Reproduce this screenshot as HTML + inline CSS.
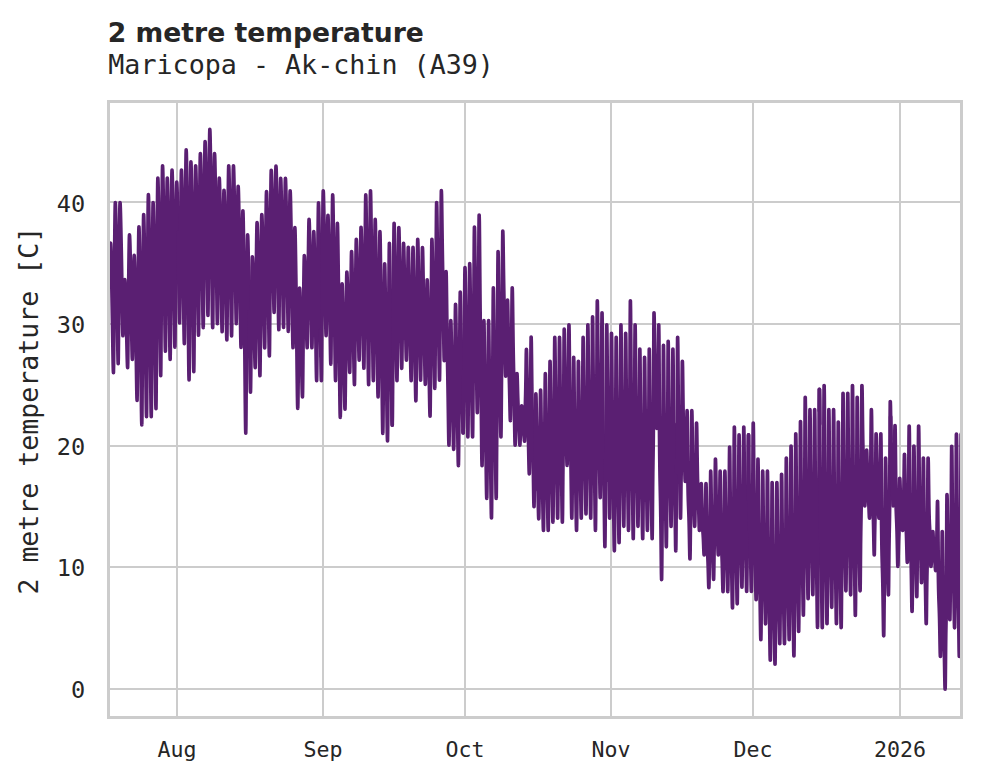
<!DOCTYPE html>
<html lang="en">
<head>
<meta charset="utf-8">
<title>2 metre temperature - Maricopa - Ak-chin (A39)</title>
<style>
html,body{margin:0;padding:0;background:#fff;}
body{width:981px;height:782px;overflow:hidden;}
svg{display:block;}
</style>
</head>
<body>
<svg width="981" height="782" viewBox="0 0 981 782">
<defs><clipPath id="ax"><rect x="108.5" y="101.5" width="853.0" height="616.0"/></clipPath></defs>
<rect width="981" height="782" fill="#ffffff"/>
<g stroke="#cccccc" stroke-width="2.0" fill="none">
<line x1="177.0" y1="101.5" x2="177.0" y2="717.5"/>
<line x1="323.0" y1="101.5" x2="323.0" y2="717.5"/>
<line x1="465.0" y1="101.5" x2="465.0" y2="717.5"/>
<line x1="611.0" y1="101.5" x2="611.0" y2="717.5"/>
<line x1="753.0" y1="101.5" x2="753.0" y2="717.5"/>
<line x1="900.0" y1="101.5" x2="900.0" y2="717.5"/>
<line x1="108.5" y1="689.0" x2="961.5" y2="689.0"/>
<line x1="108.5" y1="567.0" x2="961.5" y2="567.0"/>
<line x1="108.5" y1="446.0" x2="961.5" y2="446.0"/>
<line x1="108.5" y1="324.0" x2="961.5" y2="324.0"/>
<line x1="108.5" y1="202.0" x2="961.5" y2="202.0"/>
</g>
<g clip-path="url(#ax)" fill="none" stroke="#5a1f72" stroke-linejoin="round" stroke-linecap="round">
<polyline points="109.37,257.1 109.47,256.5 109.57,255.2 109.67,253.6 109.77,251.9 109.87,250.4 109.97,249.0 110.07,247.7 110.17,246.4 110.27,245.3 110.37,244.2 110.47,243.4 110.57,243.1 110.73,244.6 110.89,248.4 111.05,253.7 111.21,260.0 111.37,266.9 111.53,274.2 111.69,281.7 111.85,289.5 112.01,297.7 112.17,306.3 112.33,315.4 112.49,325.0 112.65,335.0 112.81,345.1 112.97,354.9 113.13,363.7 113.29,370.1 113.45,372.6 113.60,365.6 113.76,349.4 113.91,329.8 114.07,310.0 114.22,291.4 114.38,274.3 114.53,258.3 114.68,243.3 114.84,229.2 114.99,216.5 115.15,206.7 115.30,202.5 115.46,204.4 115.62,209.1 115.78,215.8 115.94,223.6 116.10,232.2 116.26,241.2 116.42,250.5 116.58,260.3 116.74,270.5 116.90,281.1 117.06,292.4 117.22,304.4 117.38,316.8 117.54,329.4 117.70,341.6 117.86,352.5 118.02,360.4 118.18,363.6 118.33,356.9 118.48,341.6 118.64,323.1 118.79,304.4 118.95,286.7 119.10,270.5 119.25,255.4 119.41,241.2 119.56,227.8 119.72,215.8 119.87,206.4 120.03,202.5 120.19,204.0 120.34,208.0 120.50,213.5 120.66,220.0 120.82,227.0 120.98,234.5 121.14,242.3 121.30,250.3 121.46,258.7 121.62,267.6 121.78,276.9 121.94,286.8 122.10,297.1 122.26,307.5 122.42,317.6 122.58,326.6 122.74,333.2 122.90,335.8 123.06,333.5 123.21,328.1 123.36,321.7 123.52,315.1 123.67,309.0 123.83,303.3 123.98,298.1 124.13,293.1 124.29,288.5 124.44,284.3 124.60,281.0 124.75,279.6 124.91,280.7 125.07,283.3 125.23,286.9 125.39,291.2 125.55,295.8 125.71,300.8 125.87,305.9 126.03,311.2 126.19,316.8 126.35,322.6 126.51,328.8 126.67,335.3 126.83,342.1 126.99,349.0 127.15,355.7 127.31,361.6 127.47,366.0 127.63,367.7 127.78,362.2 127.93,349.6 128.09,334.3 128.24,318.9 128.40,304.3 128.55,290.9 128.71,278.5 128.86,266.8 129.01,255.8 129.17,245.8 129.32,238.1 129.48,234.9 129.64,236.3 129.80,240.0 129.96,245.1 130.12,251.2 130.28,257.8 130.44,264.8 130.59,272.0 130.75,279.6 130.91,287.4 131.07,295.7 131.23,304.4 131.39,313.6 131.55,323.2 131.71,333.0 131.87,342.4 132.03,350.8 132.19,357.0 132.35,359.4 132.51,355.1 132.66,345.2 132.81,333.3 132.97,321.1 133.12,309.8 133.28,299.3 133.43,289.5 133.59,280.4 133.74,271.7 133.89,264.0 134.05,257.9 134.20,255.4 134.36,257.1 134.52,261.3 134.68,267.3 134.84,274.4 135.00,282.1 135.16,290.2 135.32,298.6 135.48,307.4 135.64,316.6 135.80,326.2 135.96,336.3 136.12,347.1 136.28,358.3 136.44,369.6 136.60,380.6 136.76,390.4 136.92,397.6 137.08,400.4 137.23,393.2 137.39,376.7 137.54,356.7 137.69,336.5 137.85,317.5 138.00,300.0 138.16,283.7 138.31,268.4 138.47,254.0 138.62,241.0 138.77,231.0 138.93,226.7 139.09,229.0 139.25,234.8 139.41,243.0 139.57,252.7 139.73,263.2 139.89,274.3 140.05,285.8 140.21,297.8 140.37,310.3 140.53,323.5 140.68,337.4 140.84,352.0 141.00,367.3 141.16,382.8 141.32,397.9 141.48,411.2 141.64,421.0 141.80,424.9 141.96,416.2 142.11,396.2 142.27,372.0 142.42,347.5 142.57,324.5 142.73,303.2 142.88,283.5 143.04,265.0 143.19,247.5 143.34,231.8 143.50,219.6 143.65,214.5 143.81,216.8 143.97,222.7 144.13,231.1 144.29,240.9 144.45,251.7 144.61,263.0 144.77,274.8 144.93,287.0 145.09,299.8 145.25,313.2 145.41,327.4 145.57,342.3 145.73,357.9 145.89,373.8 146.05,389.1 146.21,402.7 146.37,412.7 146.53,416.7 146.68,407.5 146.84,386.4 146.99,360.8 147.15,335.0 147.30,310.6 147.45,288.2 147.61,267.4 147.76,247.8 147.92,229.4 148.07,212.8 148.22,199.9 148.38,194.5 148.54,197.0 148.70,203.6 148.86,212.8 149.02,223.6 149.18,235.4 149.34,247.8 149.50,260.8 149.66,274.2 149.82,288.2 149.98,303.0 150.14,318.5 150.30,335.0 150.46,352.1 150.61,369.5 150.77,386.4 150.93,401.4 151.09,412.3 151.25,416.7 151.41,407.8 151.56,387.5 151.72,362.8 151.87,337.9 152.02,314.5 152.18,292.9 152.33,272.8 152.49,253.9 152.64,236.1 152.80,220.1 152.95,207.7 153.10,202.5 153.26,204.9 153.42,211.0 153.58,219.5 153.74,229.5 153.90,240.4 154.06,252.0 154.22,264.0 154.38,276.4 154.54,289.4 154.70,303.1 154.86,317.6 155.02,332.8 155.18,348.7 155.34,364.9 155.50,380.5 155.66,394.4 155.82,404.6 155.98,408.6 156.13,399.0 156.29,377.2 156.44,350.6 156.60,323.8 156.75,298.5 156.90,275.2 157.06,253.6 157.21,233.3 157.37,214.2 157.52,196.9 157.68,183.6 157.83,178.0 157.99,180.2 158.15,186.1 158.31,194.2 158.47,203.9 158.63,214.4 158.79,225.4 158.95,237.0 159.11,248.9 159.27,261.4 159.43,274.5 159.59,288.4 159.75,303.0 159.91,318.3 160.07,333.8 160.23,348.8 160.39,362.1 160.55,371.9 160.71,375.8 160.86,367.1 161.01,347.2 161.17,323.0 161.32,298.5 161.48,275.5 161.63,254.3 161.78,234.6 161.94,216.1 162.09,198.7 162.25,183.0 162.40,170.8 162.56,165.7 162.71,167.8 162.87,173.3 163.03,181.0 163.19,190.0 163.35,199.9 163.51,210.2 163.67,221.0 163.83,232.3 163.99,244.0 164.15,256.3 164.31,269.3 164.47,283.0 164.63,297.4 164.79,311.9 164.95,326.0 165.11,338.5 165.27,347.7 165.43,351.3 165.58,344.1 165.74,327.7 165.89,307.7 166.05,287.6 166.20,268.6 166.36,251.1 166.51,234.8 166.66,219.6 166.82,205.2 166.97,192.2 167.13,182.2 167.28,178.0 167.44,180.1 167.60,185.4 167.76,192.9 167.92,201.7 168.08,211.4 168.24,221.5 168.40,232.1 168.56,243.0 168.72,254.5 168.88,266.5 169.04,279.3 169.20,292.7 169.36,306.7 169.52,320.9 169.68,334.7 169.84,346.9 170.00,355.8 170.16,359.4 170.31,351.6 170.46,333.6 170.62,311.8 170.77,289.7 170.93,269.0 171.08,249.9 171.24,232.1 171.39,215.4 171.54,199.7 171.70,185.5 171.85,174.6 172.01,170.0 172.17,172.0 172.33,177.2 172.49,184.5 172.65,193.2 172.80,202.6 172.96,212.5 173.12,222.8 173.28,233.5 173.44,244.7 173.60,256.5 173.76,268.9 173.92,282.0 174.08,295.7 174.24,309.6 174.40,323.0 174.56,335.0 174.72,343.7 174.88,347.2 175.04,340.4 175.19,324.7 175.34,305.7 175.50,286.5 175.65,268.4 175.81,251.7 175.96,236.2 176.11,221.7 176.27,208.0 176.42,195.6 176.58,186.1 176.73,182.1 176.89,183.7 177.05,187.8 177.21,193.7 177.37,200.5 177.53,208.0 177.69,215.9 177.85,224.1 178.01,232.6 178.17,241.5 178.33,250.9 178.49,260.7" stroke-width="3.61"/>
<polyline points="178.01,232.6 178.17,241.5 178.33,250.9 178.49,260.7 178.65,271.2 178.81,282.0 178.97,293.1 179.13,303.8 179.29,313.3 179.45,320.2 179.61,323.0 179.76,316.7 179.92,302.1 180.07,284.5 180.22,266.7 180.38,250.0 180.53,234.5 180.69,220.2 180.84,206.7 180.99,194.0 181.15,182.5 181.30,173.7 181.46,170.0 181.62,172.0 181.78,177.1 181.94,184.2 182.10,192.7 182.26,201.9 182.42,211.6 182.58,221.7 182.74,232.2 182.89,243.2 183.05,254.7 183.21,266.9 183.37,279.7 183.53,293.1 183.69,306.7 183.85,319.9 184.01,331.6 184.17,340.2 184.33,343.6 184.49,335.6 184.64,317.2 184.80,294.9 184.95,272.3 185.10,251.1 185.26,231.6 185.41,213.4 185.57,196.3 185.72,180.3 185.87,165.8 186.03,154.6 186.18,149.8 186.34,152.5 186.50,159.3 186.66,168.8 186.82,180.0 186.98,192.2 187.14,205.0 187.30,218.4 187.46,232.4 187.62,246.9 187.78,262.1 187.94,278.3 188.10,295.3 188.26,313.0 188.42,331.1 188.58,348.5 188.74,364.0 188.90,375.4 189.06,379.9 189.21,370.9 189.37,350.2 189.52,325.1 189.67,299.7 189.83,275.8 189.98,253.8 190.14,233.4 190.29,214.1 190.45,196.0 190.60,179.7 190.75,167.1 190.91,161.8 191.07,164.2 191.23,170.4 191.39,179.1 191.55,189.3 191.71,200.4 191.87,212.2 192.03,224.4 192.19,237.1 192.35,250.4 192.51,264.3 192.67,279.0 192.83,294.6 192.98,310.8 193.14,327.2 193.30,343.2 193.46,357.3 193.62,367.7 193.78,371.8 193.94,363.3 194.09,343.7 194.25,320.0 194.40,296.0 194.55,273.4 194.71,252.6 194.86,233.3 195.02,215.2 195.17,198.1 195.33,182.7 195.48,170.7 195.63,165.7 195.79,167.7 195.95,172.7 196.11,179.7 196.27,187.9 196.43,196.9 196.59,206.4 196.75,216.3 196.91,226.5 197.07,237.2 197.23,248.5 197.39,260.4 197.55,272.9 197.71,286.0 197.87,299.3 198.03,312.2 198.19,323.6 198.35,332.0 198.51,335.3 198.66,327.8 198.82,310.5 198.97,289.6 199.13,268.5 199.28,248.6 199.43,230.2 199.59,213.2 199.74,197.2 199.90,182.1 200.05,168.5 200.20,158.0 200.36,153.6 200.52,155.6 200.68,160.7 200.84,167.9 201.00,176.4 201.16,185.6 201.32,195.4 201.48,205.5 201.64,216.0 201.80,227.0 201.96,238.6 202.12,250.8 202.28,263.7 202.44,277.1 202.60,290.7 202.76,304.0 202.91,315.7 203.07,324.3 203.23,327.7 203.39,320.0 203.54,302.3 203.70,280.9 203.85,259.2 204.01,238.8 204.16,220.0 204.31,202.6 204.47,186.2 204.62,170.7 204.78,156.8 204.93,146.0 205.08,141.5 205.24,143.5 205.40,148.6 205.56,155.8 205.72,164.3 205.88,173.5 206.04,183.2 206.20,193.4 206.36,203.9 206.52,214.8 206.68,226.4 206.84,238.6 207.00,251.4 207.16,264.8 207.32,278.5 207.48,291.7 207.64,303.4 207.80,312.0 207.96,315.4 208.11,307.7 208.27,290.0 208.42,268.6 208.58,247.0 208.73,226.6 208.88,207.8 209.04,190.4 209.19,174.0 209.35,158.6 209.50,144.7 209.66,133.9 209.81,129.4 209.97,131.7 210.13,137.5 210.29,145.7 210.45,155.3 210.61,165.9 210.77,177.0 210.93,188.5 211.09,200.5 211.25,213.0 211.41,226.2 211.57,240.1 211.73,254.8 211.89,270.1 212.05,285.6 212.21,300.7 212.37,314.0 212.53,323.8 212.69,327.7 212.84,320.5 212.99,304.0 213.15,283.9 213.30,263.7 213.46,244.6 213.61,227.0 213.76,210.7 213.92,195.4 214.07,180.9 214.23,167.9 214.38,157.9 214.54,153.6 214.70,155.6 214.86,160.6 215.01,167.6 215.17,175.9 215.33,184.9 215.49,194.4 215.65,204.3 215.81,214.6 215.97,225.3 216.13,236.6 216.29,248.6 216.45,261.1 216.61,274.3 216.77,287.6 216.93,300.5 217.09,311.9 217.25,320.4 217.41,323.7 217.57,317.7 217.72,303.8 217.87,287.1 218.03,270.1 218.18,254.1 218.34,239.4 218.49,225.8 218.64,212.9 218.80,200.9 218.95,190.0 219.11,181.5 219.26,178.0 219.42,179.7 219.58,184.3 219.74,190.6 219.90,198.1 220.06,206.3 220.22,214.9 220.38,223.8 220.54,233.1 220.70,242.9 220.86,253.1 221.02,263.8 221.18,275.2 221.34,287.1 221.50,299.1 221.66,310.8 221.82,321.2 221.98,328.8 222.14,331.8 222.29,325.9 222.44,312.5 222.60,296.2 222.75,279.7 222.91,264.2 223.06,249.9 223.22,236.7 223.37,224.2 223.52,212.5 223.68,201.9 223.83,193.7 223.99,190.2 224.15,192.0 224.31,196.4 224.47,202.6 224.63,209.8 224.79,217.8 224.94,226.2 225.10,234.9 225.26,244.0 225.42,253.4 225.58,263.3 225.74,273.8 225.90,284.9 226.06,296.5 226.22,308.2 226.38,319.6 226.54,329.7 226.70,337.1 226.86,340.0 227.02,332.8 227.17,316.2 227.32,296.2 227.48,275.9 227.63,256.8 227.79,239.2 227.94,222.9 228.10,207.5 228.25,193.1 228.40,180.0 228.56,170.0 228.71,165.7 228.87,167.7 229.03,172.7 229.19,179.7 229.35,188.0 229.51,197.0 229.67,206.6 229.83,216.5 229.99,226.7 230.15,237.5 230.31,248.8 230.47,260.7 230.63,273.3 230.79,286.4 230.95,299.8 231.11,312.7 231.27,324.1 231.43,332.6 231.59,335.9 231.74,328.8 231.90,312.7 232.05,293.1 232.20,273.3 232.36,254.7 232.51,237.5 232.67,221.6 232.82,206.6 232.97,192.4 233.13,179.7 233.28,169.9 233.44,165.7 233.60,167.5 233.76,172.2 233.92,178.7 234.08,186.4 234.24,194.8 234.40,203.6 234.56,212.8 234.72,222.4 234.88,232.3 235.03,242.8 235.19,253.9 235.35,265.6 235.51,277.8 235.67,290.2 235.83,302.2 235.99,312.8 236.15,320.6 236.31,323.7 236.47,318.0 236.62,305.0 236.78,289.2 236.93,273.2 237.08,258.1 237.24,244.3 237.39,231.4 237.55,219.3 237.70,207.9 237.85,197.6 238.01,189.7 238.16,186.3 238.32,188.2 238.48,192.9 238.64,199.6 238.80,207.4 238.96,216.0 239.12,225.0 239.28,234.4 239.44,244.1 239.60,254.3 239.76,265.0 239.92,276.3 240.08,288.2 240.24,300.6 240.40,313.3 240.56,325.5 240.72,336.4 240.88,344.3 241.04,347.5 241.19,341.8 241.35,328.8 241.50,313.1 241.66,297.2 241.81,282.2 241.96,268.4 242.12,255.6 242.27,243.5 242.43,232.2 242.58,222.0 242.73,214.0 242.89,210.7 243.05,213.3 243.21,219.8 243.37,229.0 243.53,239.8 243.69,251.6 243.85,264.1 244.01,277.0 244.17,290.5 244.33,304.5 244.49,319.3 244.65,334.9 244.81,351.3 244.97,368.5 245.13,385.9 245.28,402.8 245.44,417.7 245.60,428.7 245.76,433.1 245.92,424.9 246.07,406.1 246.23,383.3 246.38,360.2 246.53,338.5 246.69,318.5 246.84,299.9 247.00,282.5 247.15,266.0 247.31,251.2 247.46,239.7 247.61,234.9 247.77,236.7 247.93,241.4 248.09,247.8 248.25,255.5 248.41,263.8 248.57,272.7 248.73,281.8 248.89,291.3 249.05,301.2 249.21,311.7 249.37,322.7 249.53,334.3 249.69,346.5" stroke-width="3.62"/>
<polyline points="249.21,311.7 249.37,322.7 249.53,334.3 249.69,346.5 249.85,358.8 250.01,370.7 250.17,381.3 250.33,389.1 250.49,392.2 250.64,386.6 250.80,373.7 250.95,358.1 251.11,342.4 251.26,327.5 251.41,313.9 251.57,301.2 251.72,289.3 251.88,278.0 252.03,267.9 252.19,260.1 252.34,256.8 252.50,258.0 252.66,261.3 252.82,265.9 252.98,271.3 253.14,277.2 253.30,283.4 253.46,289.8 253.62,296.5 253.78,303.5 253.94,310.9 254.10,318.7 254.26,326.9 254.42,335.4 254.58,344.1 254.74,352.6 254.90,360.0 255.06,365.5 255.22,367.7 255.37,361.7 255.52,347.9 255.68,331.2 255.83,314.3 255.99,298.5 256.14,283.8 256.29,270.2 256.45,257.5 256.60,245.4 256.76,234.6 256.91,226.2 257.06,222.6 257.22,224.4 257.38,229.0 257.54,235.3 257.70,242.8 257.86,250.9 258.02,259.5 258.18,268.4 258.34,277.7 258.50,287.3 258.66,297.5 258.82,308.2 258.98,319.5 259.14,331.3 259.30,343.3 259.46,354.9 259.62,365.2 259.78,372.8 259.94,375.8 260.09,369.1 260.25,353.8 260.40,335.3 260.56,316.6 260.71,299.0 260.87,282.8 261.02,267.8 261.17,253.5 261.33,240.1 261.48,227.9 261.64,218.5 261.79,214.5 261.95,216.0 262.11,220.1 262.27,225.7 262.43,232.3 262.59,239.5 262.75,247.0 262.91,254.8 263.07,262.8 263.23,271.2 263.39,280.0 263.55,289.3 263.71,299.1 263.87,309.3 264.03,319.7 264.19,329.8 264.35,338.7 264.51,345.4 264.67,348.0 264.82,341.5 264.97,326.7 265.13,308.8 265.28,290.7 265.44,273.8 265.59,258.2 265.75,243.7 265.90,229.9 266.05,216.8 266.21,204.9 266.36,195.5 266.52,191.6 266.68,193.6 266.84,198.6 267.00,205.7 267.16,213.9 267.31,222.8 267.47,232.1 267.63,241.7 267.79,251.5 267.95,261.8 268.11,272.6 268.27,283.9 268.43,295.9 268.59,308.4 268.75,321.2 268.91,333.6 269.07,344.6 269.23,352.7 269.39,356.0 269.55,348.3 269.70,330.6 269.85,309.5 270.01,288.2 270.16,268.2 270.32,249.8 270.47,232.6 270.62,216.2 270.78,200.6 270.93,186.3 271.09,175.0 271.24,170.2 271.40,172.0 271.56,176.4 271.72,182.6 271.88,189.8 272.04,197.6 272.20,205.6 272.36,213.9 272.52,222.5 272.68,231.3 272.84,240.5 273.00,250.3 273.16,260.6 273.32,271.3 273.48,282.3 273.64,293.0 273.80,302.5 273.96,309.6 274.12,312.4 274.27,306.3 274.43,292.4 274.58,275.8 274.73,259.1 274.89,243.5 275.04,229.1 275.20,215.7 275.35,202.8 275.50,190.4 275.66,179.0 275.81,170.0 275.97,166.1 276.13,168.2 276.29,173.4 276.45,180.7 276.61,189.0 276.77,198.0 276.93,207.4 277.09,216.9 277.25,226.7 277.40,236.8 277.56,247.4 277.72,258.5 277.88,270.3 278.04,282.6 278.20,295.2 278.36,307.5 278.52,318.4 278.68,326.5 278.84,329.8 279.00,323.5 279.15,309.1 279.30,292.0 279.46,274.8 279.61,258.8 279.77,244.0 279.92,230.1 280.08,216.8 280.23,203.9 280.38,191.9 280.54,182.5 280.69,178.4 280.85,180.3 281.01,185.2 281.17,191.8 281.33,199.6 281.49,207.8 281.65,216.4 281.81,225.1 281.97,233.9 282.13,243.1 282.29,252.7 282.45,262.7 282.61,273.4 282.77,284.5 282.93,295.9 283.09,307.1 283.25,317.0 283.41,324.4 283.57,327.4 283.72,321.1 283.88,307.1 284.03,290.2 284.18,273.4 284.34,257.8 284.49,243.3 284.65,229.7 284.80,216.6 284.96,203.8 285.11,192.0 285.26,182.5 285.42,178.4 285.58,180.4 285.74,185.5 285.90,192.4 286.06,200.5 286.22,209.0 286.38,217.8 286.54,226.7 286.70,235.8 286.86,245.2 287.02,255.0 287.18,265.2 287.33,276.1 287.49,287.4 287.65,299.1 287.81,310.5 287.97,320.7 288.13,328.3 288.29,331.4 288.45,325.5 288.60,312.2 288.76,296.3 288.91,280.6 289.06,265.9 289.22,252.3 289.37,239.5 289.53,227.1 289.68,215.0 289.84,203.7 289.99,194.6 290.14,190.7 290.30,192.8 290.46,198.1 290.62,205.3 290.78,213.7 290.94,222.5 291.10,231.6 291.26,240.8 291.42,250.1 291.58,259.7 291.74,269.6 291.90,280.1 292.06,291.1 292.22,302.7 292.38,314.7 292.54,326.3 292.70,336.8 292.86,344.6 293.02,347.8 293.17,342.7 293.33,331.4 293.48,317.9 293.64,304.5 293.79,292.0 293.94,280.5 294.10,269.6 294.25,259.0 294.41,248.6 294.56,238.8 294.71,230.9 294.87,227.5 295.03,230.0 295.19,236.2 295.35,244.7 295.51,254.4 295.67,264.6 295.83,275.1 295.99,285.7 296.15,296.4 296.31,307.3 296.47,318.7 296.63,330.7 296.79,343.3 296.95,356.6 297.11,370.3 297.27,383.7 297.42,395.7 297.58,404.8 297.74,408.4 297.90,403.3 298.05,391.9 298.21,378.5 298.36,365.2 298.52,352.8 298.67,341.3 298.82,330.5 298.98,319.9 299.13,309.4 299.29,299.5 299.44,291.5 299.59,288.0 299.75,289.5 299.91,293.3 300.07,298.5 300.23,304.4 300.39,310.7 300.55,317.0 300.71,323.3 300.87,329.8 301.03,336.3 301.19,343.1 301.35,350.3 301.51,357.8 301.67,365.8 301.83,374.0 301.99,382.0 302.15,389.3 302.31,394.7 302.47,396.9 302.62,390.9 302.78,377.6 302.93,361.9 303.09,346.3 303.24,331.9 303.39,318.5 303.55,305.8 303.70,293.4 303.86,281.1 304.01,269.4 304.17,259.8 304.32,255.6 304.48,256.9 304.64,260.2 304.80,264.7 304.96,269.7 305.12,275.0 305.28,280.4 305.44,285.8 305.60,291.2 305.76,296.7 305.92,302.5 306.08,308.5 306.24,314.8 306.40,321.5 306.56,328.4 306.72,335.2 306.88,341.3 307.04,345.9 307.20,347.8 307.35,342.3 307.50,330.2 307.66,316.0 307.81,301.9 307.97,288.9 308.12,276.8 308.27,265.3 308.43,254.0 308.58,242.8 308.74,232.0 308.89,223.2 309.05,219.3 309.21,221.2 309.37,225.8 309.52,232.1 309.68,239.2 309.84,246.7 310.00,254.2 310.16,261.7 310.32,269.3 310.48,276.9 310.64,284.9 310.80,293.2 310.96,302.0 311.12,311.2 311.28,320.8 311.44,330.2 311.60,338.8 311.76,345.2 311.92,347.8 312.08,342.9 312.23,331.9 312.38,319.0 312.54,306.4 312.69,294.7 312.85,283.8 313.00,273.5 313.15,263.3 313.31,253.1 313.46,243.3 313.62,235.2 313.77,231.6 313.93,233.8 314.09,239.3 314.25,246.7 314.41,255.0 314.57,263.7 314.73,272.5 314.89,281.2 315.05,289.9 315.21,298.8 315.37,307.9 315.53,317.5 315.69,327.6 315.85,338.3 316.01,349.3 316.17,360.2 316.33,370.1 316.49,377.6 316.65,380.6 316.80,373.0 316.95,356.3 317.11,336.7 317.26,317.5 317.42,299.7 317.57,283.3 317.73,267.6 317.88,252.0 318.03,236.3 318.19,221.1 318.34,208.5 318.50,202.9 318.66,205.6 318.82,212.3 318.98,221.3 319.14,231.3 319.30,241.8 319.46,252.3 319.61,262.6 319.77,273.0 319.93,283.5 320.09,294.3 320.25,305.6 320.41,317.6 320.57,330.2 320.73,343.3 320.89,356.3" stroke-width="3.63"/>
<polyline points="320.57,330.2 320.73,343.3 320.89,356.3 321.05,368.1 321.21,377.0 321.37,380.6 321.53,372.5 321.68,354.6 321.83,333.8 321.99,313.3 322.14,294.5 322.30,277.0 322.45,260.3 322.61,243.7 322.76,226.8 322.91,210.4 323.07,196.8 323.22,190.7 323.38,192.9 323.54,198.4 323.70,205.9 323.86,214.2 324.02,222.7 324.18,231.3 324.34,239.8 324.50,248.2 324.66,256.7 324.82,265.5 324.98,274.6 325.14,284.3 325.30,294.6 325.46,305.2 325.62,315.8 325.78,325.4 325.94,332.6 326.10,335.6 326.25,330.4 326.41,319.1 326.56,305.9 326.71,293.1 326.87,281.2 327.02,270.2 327.18,259.7 327.33,249.2 327.49,238.4 327.64,227.9 327.79,219.1 327.95,215.2 328.11,217.6 328.27,223.3 328.43,231.1 328.59,239.7 328.75,248.6 328.91,257.4 329.07,266.1 329.23,274.8 329.39,283.5 329.54,292.4 329.70,301.8 329.86,311.7 330.02,322.1 330.18,333.0 330.34,343.8 330.50,353.7 330.66,361.1 330.82,364.2 330.98,356.9 331.13,341.0 331.29,322.5 331.44,304.5 331.59,287.9 331.75,272.6 331.90,257.8 332.06,243.0 332.21,227.9 332.36,212.9 332.52,200.4 332.67,194.8 332.83,197.7 332.99,205.1 333.15,214.8 333.31,225.7 333.47,236.9 333.63,248.0 333.79,258.8 333.95,269.6 334.11,280.4 334.27,291.4 334.43,303.0 334.59,315.2 334.75,328.2 334.91,341.7 335.07,355.2 335.23,367.5 335.39,376.8 335.55,380.6 335.70,373.8 335.86,359.1 336.01,342.0 336.17,325.4 336.32,310.1 336.47,296.0 336.63,282.4 336.78,268.6 336.94,254.5 337.09,240.5 337.24,228.7 337.40,223.4 337.56,226.6 337.72,234.3 337.88,244.7 338.04,256.2 338.20,267.9 338.36,279.5 338.52,290.9 338.68,302.0 338.84,313.2 339.00,324.7 339.16,336.7 339.32,349.4 339.48,362.8 339.63,376.8 339.79,390.8 339.95,403.7 340.11,413.4 340.27,417.4 340.43,411.7 340.58,399.1 340.74,384.7 340.89,370.7 341.04,357.8 341.20,345.9 341.35,334.4 341.51,322.7 341.66,310.7 341.82,298.7 341.97,288.5 342.12,283.9 342.28,286.0 342.44,291.1 342.60,297.9 342.76,305.4 342.92,313.0 343.08,320.5 343.24,327.8 343.40,335.0 343.56,342.2 343.72,349.6 343.88,357.2 344.04,365.4 344.20,374.0 344.36,383.0 344.52,392.0 344.68,400.3 344.84,406.6 345.00,409.2 345.15,403.3 345.31,390.4 345.46,375.6 345.62,361.3 345.77,348.1 345.92,336.0 346.08,324.2 346.23,312.3 346.39,299.8 346.54,287.4 346.70,276.8 346.85,272.0 347.01,273.7 347.17,277.8 347.33,283.3 347.49,289.4 347.65,295.6 347.81,301.6 347.97,307.5 348.13,313.2 348.29,318.9 348.45,324.8 348.61,330.9 348.77,337.4 348.93,344.3 349.09,351.4 349.25,358.6 349.41,365.3 349.57,370.3 349.72,372.4 349.88,367.2 350.03,355.8 350.19,342.8 350.34,330.3 350.50,318.8 350.65,308.2 350.80,297.9 350.96,287.4 351.11,276.4 351.27,265.3 351.42,255.8 351.57,251.5 351.73,253.8 351.89,259.4 352.05,266.8 352.21,275.0 352.37,283.2 352.53,291.2 352.69,299.0 352.85,306.6 353.01,314.1 353.17,321.8 353.33,329.9 353.49,338.4 353.65,347.5 353.81,356.9 353.97,366.5 354.13,375.2 354.29,381.9 354.45,384.7 354.60,378.4 354.76,364.8 354.91,349.2 355.07,334.3 355.22,320.6 355.38,307.9 355.53,295.6 355.68,282.9 355.84,269.7 355.99,256.2 356.15,244.7 356.30,239.4 356.46,241.5 356.62,246.7 356.78,253.5 356.94,260.9 357.10,268.4 357.26,275.7 357.42,282.8 357.58,289.6 357.74,296.4 357.90,303.4 358.06,310.6 358.22,318.3 358.38,326.4 358.54,335.0 358.70,343.6 358.86,351.5 359.02,357.6 359.18,360.1 359.33,354.3 359.48,341.9 359.64,327.7 359.79,314.1 359.95,301.6 360.10,290.1 360.26,278.9 360.41,267.4 360.56,255.2 360.72,242.8 360.87,232.1 361.03,227.2 361.19,229.7 361.35,235.8 361.51,243.9 361.67,252.6 361.82,261.5 361.98,270.1 362.14,278.3 362.30,286.3 362.46,294.2 362.62,302.2 362.78,310.6 362.94,319.5 363.10,329.0 363.26,338.9 363.42,349.0 363.58,358.2 363.74,365.3 363.90,368.3 364.06,360.8 364.21,344.5 364.36,326.0 364.52,308.4 364.67,292.3 364.83,277.4 364.98,262.8 365.13,247.8 365.29,231.8 365.44,215.5 365.60,201.3 365.75,194.8 365.91,198.2 366.07,206.6 366.23,217.6 366.39,229.5 366.55,241.5 366.71,253.1 366.87,264.2 367.03,274.9 367.19,285.4 367.35,296.2 367.51,307.3 367.67,319.2 367.83,331.9 367.99,345.2 368.15,358.7 368.31,371.1 368.47,380.7 368.63,384.7 368.78,376.3 368.94,358.1 369.09,337.5 369.24,317.9 369.40,300.0 369.55,283.5 369.71,267.3 369.86,250.5 370.01,232.6 370.17,214.2 370.32,198.1 370.48,190.7 370.64,194.2 370.80,202.7 370.96,213.8 371.12,225.9 371.28,237.9 371.44,249.5 371.60,260.6 371.76,271.3 371.91,281.8 372.07,292.4 372.23,303.5 372.39,315.3 372.55,327.9 372.71,341.2 372.87,354.6 373.03,367.0 373.19,376.6 373.35,380.6 373.51,373.6 373.66,358.5 373.82,341.4 373.97,325.2 374.12,310.5 374.28,296.9 374.43,283.5 374.59,269.5 374.74,254.6 374.89,239.1 375.05,225.6 375.20,219.3 375.36,222.6 375.52,230.7 375.68,241.3 375.84,252.6 376.00,264.0 376.16,274.9 376.32,285.2 376.48,295.2 376.64,304.9 376.80,314.8 376.96,325.1 377.12,336.0 377.28,347.7 377.44,360.0 377.60,372.5 377.76,384.2 377.92,393.2 378.08,396.9 378.23,389.7 378.39,374.2 378.54,356.8 378.69,340.3 378.85,325.3 379.00,311.5 379.16,297.8 379.31,283.6 379.47,268.2 379.62,252.2 379.77,238.1 379.93,231.6 380.09,235.4 380.25,244.8 380.41,256.9 380.57,270.0 380.73,282.9 380.89,295.3 381.05,307.1 381.21,318.3 381.37,329.4 381.53,340.5 381.69,352.1 381.85,364.4 382.00,377.6 382.16,391.6 382.32,405.7 382.48,418.9 382.64,429.1 382.80,433.4 382.96,426.0 383.11,410.1 383.27,392.3 383.42,375.5 383.57,360.3 383.73,346.2 383.88,332.3 384.04,317.6 384.19,301.8 384.35,285.2 384.50,270.6 384.65,263.8 384.81,267.3 384.97,275.6 385.13,286.3 385.29,297.9 385.45,309.4 385.61,320.3 385.77,330.6 385.93,340.5 386.09,350.1 386.25,359.8 386.41,369.9 386.57,380.6 386.73,392.1 386.89,404.3 387.05,416.7 387.21,428.3 387.37,437.3 387.53,441.0 387.68,432.3 387.84,413.9 387.99,393.2 388.15,373.7 388.30,356.1 388.45,339.8 388.61,323.7 388.76,306.7 388.92,288.1 389.07,268.7 389.22,251.4 389.38,243.3 389.54,247.0 389.70,255.6 389.86,266.8 390.02,278.8 390.18,290.7 390.34,301.9 390.50,312.5 390.66,322.5 390.82,332.3 390.98,342.2 391.14,352.5 391.30,363.4 391.46,375.1 391.62,387.6 391.78,400.2 391.94,412.1 392.09,421.3 392.25,425.2" stroke-width="3.64"/>
<polyline points="391.78,400.2 391.94,412.1 392.09,421.3 392.25,425.2 392.41,416.3 392.56,397.5 392.72,376.5 392.87,356.7 393.03,338.9 393.18,322.4 393.33,306.0 393.49,288.7 393.64,269.7 393.80,249.6 393.95,231.8 394.10,223.4 394.26,226.6 394.42,234.2 394.58,244.0 394.74,254.4 394.90,264.7 395.06,274.5 395.22,283.6 395.38,292.3 395.54,300.7 395.70,309.2 395.86,317.9 396.02,327.3 396.18,337.4 396.34,348.1 396.50,359.0 396.66,369.3 396.82,377.2 396.98,380.6 397.13,373.8 397.29,359.6 397.44,343.7 397.60,328.8 397.75,315.4 397.91,303.0 398.06,290.6 398.21,277.5 398.37,263.0 398.52,247.7 398.68,233.9 398.83,227.5 398.99,230.4 399.15,237.3 399.31,246.2 399.47,255.6 399.63,264.9 399.79,273.7 399.95,281.9 400.11,289.6 400.27,297.1 400.43,304.6 400.59,312.4 400.75,320.7 400.91,329.7 401.07,339.2 401.23,349.0 401.39,358.1 401.55,365.3 401.71,368.3 401.86,362.8 402.01,351.1 402.17,338.2 402.32,326.1 402.48,315.3 402.63,305.2 402.78,295.2 402.94,284.5 403.09,272.7 403.25,260.1 403.40,248.7 403.56,243.4 403.72,245.8 403.88,251.6 404.03,259.1 404.19,267.0 404.35,274.7 404.51,282.0 404.67,288.8 404.83,295.2 404.99,301.3 405.15,307.5 405.31,313.9 405.47,320.8 405.63,328.1 405.79,336.0 405.95,344.1 406.11,351.7 406.27,357.6 406.43,360.1 406.59,355.1 406.74,344.6 406.89,333.0 407.05,322.2 407.20,312.5 407.36,303.5 407.51,294.6 407.66,284.9 407.82,274.2 407.97,262.7 408.13,252.4 408.28,247.4 408.44,250.3 408.60,257.0 408.76,265.6 408.92,274.7 409.08,283.6 409.24,291.9 409.40,299.6 409.56,306.9 409.72,313.9 409.88,320.9 410.04,328.1 410.20,335.9 410.36,344.2 410.52,353.1 410.68,362.3 410.84,371.0 411.00,377.7 411.16,380.6 411.31,374.7 411.46,362.3 411.62,348.6 411.77,335.9 411.93,324.6 412.08,314.0 412.24,303.5 412.39,292.1 412.54,279.4 412.70,265.7 412.85,253.3 413.01,247.4 413.17,250.7 413.33,258.6 413.49,268.6 413.65,279.3 413.81,289.5 413.97,299.2 414.12,308.0 414.28,316.3 414.44,324.3 414.60,332.3 414.76,340.6 414.92,349.4 415.08,359.0 415.24,369.2 415.40,379.7 415.56,389.7 415.72,397.5 415.88,400.8 416.04,393.6 416.19,378.6 416.34,362.1 416.50,346.8 416.65,333.2 416.81,320.5 416.96,307.8 417.12,294.1 417.27,278.6 417.42,261.9 417.58,246.7 417.73,239.4 417.89,242.5 418.05,249.8 418.21,259.2 418.37,269.0 418.53,278.5 418.69,287.3 418.85,295.5 419.01,303.1 419.17,310.3 419.33,317.6 419.49,325.1 419.65,333.2 419.81,341.9 419.97,351.2 420.13,360.9 420.29,370.0 420.45,377.2 420.61,380.2 420.76,374.3 420.92,362.0 421.07,348.4 421.22,335.9 421.38,324.8 421.53,314.5 421.69,304.1 421.84,292.8 422.00,280.1 422.15,266.2 422.30,253.5 422.46,247.5 422.62,250.5 422.78,257.8 422.94,266.9 423.10,276.5 423.26,285.8 423.42,294.5 423.58,302.4 423.74,309.7 423.90,316.7 424.06,323.7 424.21,331.0 424.37,338.7 424.53,347.1 424.69,356.2 424.85,365.5 425.01,374.4 425.17,381.3 425.33,384.3 425.49,379.6 425.64,369.9 425.80,359.3 425.95,349.6 426.10,340.9 426.26,332.8 426.41,324.8 426.57,315.9 426.72,305.8 426.87,294.8 427.03,284.7 427.18,279.9 427.34,283.0 427.50,290.3 427.66,299.5 427.82,309.2 427.98,318.5 428.14,327.1 428.30,335.0 428.46,342.2 428.62,349.2 428.78,356.1 428.94,363.3 429.10,370.9 429.26,379.2 429.42,388.2 429.58,397.5 429.74,406.3 429.90,413.2 430.06,416.2 430.21,408.3 430.37,391.9 430.52,374.0 430.68,357.5 430.83,343.0 430.98,329.5 431.14,315.8 431.29,300.8 431.45,283.7 431.60,264.9 431.75,247.6 431.91,239.3 432.07,242.7 432.23,250.8 432.39,261.0 432.55,271.7 432.71,282.0 432.87,291.4 433.03,300.0 433.19,307.9 433.35,315.5 433.51,323.0 433.67,330.7 433.83,339.0 433.99,348.1 434.14,357.8 434.30,367.9 434.46,377.5 434.62,385.2 434.78,388.4 434.94,380.1 435.09,362.8 435.25,344.1 435.40,326.9 435.55,311.7 435.71,297.7 435.86,283.5 436.02,267.7 436.17,249.7 436.33,229.8 436.48,211.4 436.63,202.5 436.79,206.6 436.95,216.4 437.11,228.8 437.27,241.6 437.43,253.9 437.59,265.1 437.75,275.4 437.91,284.8 438.07,293.7 438.23,302.6 438.39,311.7 438.55,321.5 438.71,332.2 438.87,343.8 439.03,355.8 439.19,367.2 439.35,376.3 439.51,380.2 439.66,371.7 439.82,354.1 439.97,335.1 440.13,317.7 440.28,302.4 440.43,288.2 440.59,273.8 440.74,257.8 440.90,239.3 441.05,218.9 441.21,199.9 441.36,190.7 441.52,194.7 441.68,204.2 441.84,216.1 442.00,228.5 442.16,240.3 442.32,251.1 442.48,260.9 442.64,269.9 442.80,278.3 442.96,286.7 443.12,295.4 443.28,304.7 443.44,314.8 443.60,325.8 443.76,337.2 443.92,348.2 444.08,356.9 444.24,360.6 444.39,356.6 444.54,348.4 444.70,339.5 444.85,331.4 445.01,324.2 445.16,317.6 445.31,310.9 445.47,303.4 445.62,294.8 445.78,285.1 445.93,276.1 446.09,271.7 446.24,275.9 446.40,285.7 446.56,298.0 446.72,310.8 446.88,322.9 447.04,333.9 447.20,343.9 447.36,353.0 447.52,361.6 447.68,370.1 447.84,378.8 448.00,388.3 448.16,398.5 448.32,409.7 448.48,421.3 448.64,432.5 448.80,441.4 448.96,445.2 449.11,439.6 449.27,428.1 449.42,415.7 449.58,404.4 449.73,394.5 449.89,385.3 450.04,376.0 450.19,365.5 450.35,353.3 450.50,339.7 450.66,326.9 450.81,320.7 450.97,323.8 451.13,331.2 451.29,340.4 451.45,350.0 451.61,359.0 451.77,367.2 451.93,374.6 452.09,381.3 452.25,387.6 452.41,393.8 452.57,400.3 452.73,407.2 452.89,414.8 453.05,423.0 453.21,431.6 453.37,439.9 453.53,446.5 453.69,449.3 453.84,442.8 453.99,429.3 454.15,415.0 454.30,401.9 454.46,390.5 454.61,380.0 454.77,369.2 454.92,357.0 455.07,342.7 455.23,326.7 455.38,311.7 455.54,304.3 455.70,308.3 455.86,317.7 456.02,329.4 456.18,341.5 456.33,352.9 456.49,363.2 456.65,372.4 456.81,380.8 456.97,388.7 457.13,396.4 457.29,404.4 457.45,413.0 457.61,422.5 457.77,432.7 457.93,443.5 458.09,453.9 458.25,462.1 458.41,465.7 458.57,457.9 458.72,441.8 458.87,424.7 459.03,409.2 459.18,395.6 459.34,383.1 459.49,370.3 459.64,355.8 459.80,338.6 459.95,319.3 460.11,301.1 460.26,292.1 460.42,295.7 460.58,304.0 460.74,314.3 460.90,324.9 461.06,334.9 461.22,343.9 461.38,352.0 461.54,359.3 461.70,366.1 461.86,372.8 462.02,379.7 462.18,387.1 462.34,395.3 462.50,404.2 462.66,413.5 462.82,422.6 462.98,429.8 463.14,432.9 463.29,425.4 463.45,410.1" stroke-width="3.66"/>
<polyline points="462.98,429.8 463.14,432.9 463.29,425.4 463.45,410.1 463.60,393.9 463.75,379.2 463.91,366.4 464.06,354.6 464.22,342.5 464.37,328.7 464.52,312.4 464.68,293.8 464.83,276.2 464.99,267.6 465.15,271.9 465.31,282.1 465.47,294.6 465.63,307.5 465.79,319.6 465.95,330.5 466.11,340.2 466.27,348.9 466.42,357.0 466.58,365.0 466.74,373.2 466.90,382.1 467.06,391.8 467.22,402.5 467.38,413.7 467.54,424.5 467.70,433.2 467.86,437.0 468.02,429.1 468.17,413.1 468.33,396.1 468.48,380.8 468.63,367.5 468.79,355.3 468.94,342.6 469.10,328.2 469.25,311.0 469.40,291.4 469.56,272.7 469.71,263.5 469.87,268.0 470.03,278.5 470.19,291.5 470.35,304.8 470.51,317.3 470.67,328.5 470.83,338.3 470.99,347.2 471.15,355.5 471.31,363.6 471.47,371.9 471.63,380.9 471.79,390.8 471.95,401.7 472.11,413.1 472.27,424.2 472.43,433.1 472.59,437.0 472.74,427.4 472.90,408.1 473.05,387.6 473.20,369.2 473.36,353.3 473.51,338.6 473.67,323.4 473.82,306.0 473.98,285.1 474.13,261.1 474.28,238.3 474.44,227.0 474.60,231.9 474.76,243.3 474.92,257.4 475.08,271.7 475.24,285.1 475.40,297.1 475.56,307.7 475.72,317.1 475.88,325.9 476.04,334.5 476.20,343.3 476.36,352.8 476.51,363.4 476.67,374.9 476.83,387.1 476.99,399.0 477.15,408.6 477.31,412.7 477.47,403.7 477.62,385.5 477.78,366.2 477.93,349.1 478.08,334.2 478.24,320.6 478.39,306.4 478.55,290.0 478.70,270.3 478.86,247.6 479.01,225.8 479.16,215.1 479.32,221.8 479.48,237.4 479.64,256.6 479.80,276.1 479.96,294.3 480.12,310.5 480.28,324.7 480.44,337.4 480.60,349.1 480.76,360.6 480.92,372.4 481.08,385.2 481.24,399.2 481.40,414.7 481.56,431.2 481.72,447.2 481.88,460.1 482.04,465.7 482.19,459.1 482.35,445.7 482.50,431.6 482.66,419.2 482.81,408.4 482.96,398.4 483.12,388.1 483.27,376.1 483.43,361.6 483.58,344.8 483.73,328.7 483.89,320.7 484.05,325.5 484.21,336.7 484.37,350.4 484.53,364.4 484.69,377.4 484.85,388.9 485.01,398.9 485.17,407.9 485.33,416.2 485.49,424.2 485.65,432.5 485.81,441.4 485.97,451.4 486.13,462.3 486.29,473.9 486.44,485.3 486.60,494.4 486.76,498.4 486.92,490.3 487.07,473.9 487.23,456.7 487.38,441.5 487.54,428.4 487.69,416.4 487.84,403.8 488.00,389.1 488.15,371.3 488.31,350.6 488.46,330.6 488.61,320.7 488.77,326.1 488.93,338.7 489.09,354.1 489.25,369.8 489.41,384.2 489.57,397.0 489.73,408.2 489.89,418.1 490.05,427.2 490.21,436.0 490.37,445.1 490.53,455.0 490.69,465.9 490.85,477.9 491.01,490.8 491.17,503.4 491.33,513.6 491.49,518.0 491.64,507.5 491.80,486.3 491.95,464.1 492.11,444.6 492.26,427.8 492.42,412.4 492.57,396.2 492.72,377.3 492.88,354.1 493.03,327.1 493.19,300.9 493.34,287.9 493.50,293.8 493.66,307.3 493.82,324.0 493.98,340.8 494.14,356.3 494.30,370.0 494.46,381.9 494.62,392.4 494.78,402.0 494.94,411.3 495.10,420.9 495.26,431.4 495.42,442.9 495.58,455.7 495.74,469.4 495.90,482.8 496.06,493.7 496.22,498.4 496.37,487.1 496.52,464.4 496.68,440.7 496.83,419.9 496.99,402.1 497.14,385.7 497.29,368.5 497.45,348.2 497.60,323.3 497.76,294.2 497.91,265.8 498.07,251.6 498.23,256.8 498.39,268.9 498.54,283.8 498.70,298.7 498.86,312.4 499.02,324.5 499.18,334.9 499.34,344.1 499.50,352.5 499.66,360.7 499.82,369.0 499.98,378.1 500.14,388.2 500.30,399.4 500.46,411.4 500.62,423.2 500.78,432.8 500.94,437.0 501.10,427.5 501.25,408.6 501.40,389.0 501.56,371.7 501.71,357.0 501.87,343.5 502.02,329.2 502.17,312.4 502.33,291.6 502.48,267.1 502.64,243.1 502.79,231.1 502.95,235.3 503.11,244.9 503.27,256.6 503.43,268.4 503.59,279.1 503.75,288.6 503.91,296.7 504.07,303.9 504.23,310.4 504.39,316.7 504.55,323.2 504.71,330.2 504.87,338.0 505.03,346.7 505.19,356.1 505.35,365.3 505.51,372.8 505.67,376.1 505.82,372.6 505.97,365.6 506.13,358.4 506.28,352.1 506.44,346.7 506.59,341.8 506.75,336.6 506.90,330.4 507.05,322.7 507.21,313.6 507.36,304.7 507.52,300.2 507.68,303.7 507.84,311.8 508.00,321.6 508.16,331.5 508.32,340.5 508.47,348.3 508.63,355.1 508.79,361.0 508.95,366.4 509.11,371.6 509.27,376.9 509.43,382.7 509.59,389.1 509.75,396.3 509.91,404.1 510.07,411.7 510.23,418.0 510.39,420.7 510.55,414.6 510.70,402.4 510.85,389.8 511.01,378.8 511.16,369.5 511.32,361.0 511.47,352.0 511.63,341.2 511.78,327.7 511.93,311.6 512.09,295.8 512.24,287.9 512.40,292.5 512.56,303.2 512.72,316.2 512.88,329.1 513.04,341.0 513.20,351.2 513.36,360.0 513.52,367.7 513.68,374.7 513.84,381.3 514.00,388.2 514.16,395.7 514.32,404.1 514.48,413.4 514.64,423.5 514.80,433.5 514.96,441.6 515.12,445.2 515.27,441.9 515.43,435.3 515.58,428.5 515.73,422.7 515.89,417.7 516.04,413.1 516.20,408.3 516.35,402.5 516.50,395.2 516.66,386.5 516.81,377.9 516.97,373.5 517.13,375.7 517.29,380.6 517.45,386.6 517.61,392.5 517.77,397.9 517.93,402.6 518.09,406.6 518.25,410.1 518.41,413.2 518.56,416.2 518.72,419.3 518.88,422.7 519.04,426.5 519.20,430.7 519.36,435.3 519.52,439.8 519.68,443.5 519.84,445.2 520.00,443.3 520.15,439.7 520.31,436.0 520.46,432.8 520.61,430.1 520.77,427.6 520.92,425.0 521.08,421.8 521.23,417.8 521.38,413.0 521.54,408.2 521.69,405.8 521.85,406.8 522.01,409.3 522.17,412.3 522.33,415.2 522.49,417.9 522.65,420.2 522.81,422.2 522.97,423.9 523.13,425.4 523.29,426.9 523.45,428.4 523.61,430.0 523.77,431.9 523.93,433.9 524.09,436.2 524.25,438.4 524.41,440.3 524.57,441.1 524.72,436.8 524.88,428.4 525.03,419.8 525.19,412.4 525.34,406.2 525.49,400.5 525.65,394.4 525.80,387.0 525.96,377.6 526.11,366.3 526.26,355.0 526.42,349.3 526.58,353.1 526.74,361.9 526.90,372.5 527.06,383.0 527.22,392.4 527.38,400.6 527.54,407.5 527.70,413.5 527.86,418.9 528.02,424.0 528.18,429.2 528.34,435.0 528.50,441.4 528.65,448.7 528.81,456.6 528.97,464.5 529.13,470.9 529.29,473.8 529.45,467.4 529.60,454.9 529.76,442.2 529.91,431.2 530.06,422.0 530.22,413.6 530.37,404.6 530.53,393.6 530.68,379.6 530.84,362.6 530.99,345.7 531.14,337.0 531.30,342.3 531.46,354.4 531.62,368.9 531.78,383.4 531.94,396.3 532.10,407.5 532.26,416.9 532.42,425.0 532.58,432.2 532.74,439.1 532.90,446.2 533.06,453.9 533.22,462.6 533.38,472.5 533.54,483.2 533.70,493.9 533.86,502.7 534.02,506.6 534.17,501.3 534.33,491.0 534.48,480.5 534.64,471.6 534.79,464.1" stroke-width="3.67"/>
<polyline points="534.33,491.0 534.48,480.5 534.64,471.6 534.79,464.1 534.94,457.2 535.10,449.9 535.25,440.8 535.41,429.2 535.56,415.2 535.72,401.0 535.87,393.8 536.03,397.7 536.19,406.8 536.35,417.6 536.51,428.3 536.67,437.9 536.83,446.1 536.99,453.0 537.15,459.0 537.31,464.2 537.47,469.3 537.63,474.4 537.79,480.1 537.95,486.4 538.11,493.6 538.27,501.5 538.43,509.4 538.59,515.9 538.75,518.8 538.90,512.8 539.05,501.0 539.21,489.1 539.36,478.9 539.52,470.5 539.67,462.7 539.82,454.4 539.98,444.1 540.13,430.9 540.29,414.7 540.44,398.4 540.60,390.0 540.75,394.5 540.91,404.7 541.07,417.0 541.23,429.1 541.39,440.0 541.55,449.2 541.71,457.0 541.87,463.6 542.03,469.5 542.19,475.0 542.35,480.8 542.51,487.0 542.67,494.1 542.83,502.2 542.99,511.0 543.15,519.8 543.31,527.2 543.47,530.4 543.62,523.0 543.78,508.7 543.93,494.3 544.09,482.0 544.24,471.9 544.40,462.5 544.55,452.5 544.70,440.0 544.86,423.8 545.01,404.0 545.17,383.9 545.32,373.7 545.48,378.7 545.64,390.3 545.80,404.2 545.96,417.8 546.12,429.9 546.28,440.3 546.44,448.9 546.60,456.2 546.76,462.7 546.92,468.9 547.08,475.2 547.24,482.1 547.40,490.0 547.56,498.9 547.72,508.7 547.88,518.6 548.04,526.8 548.20,530.4 548.35,522.5 548.50,507.0 548.66,491.5 548.81,478.4 548.97,467.6 549.12,457.6 549.28,446.9 549.43,433.5 549.58,416.0 549.74,394.5 549.89,372.6 550.05,361.4 550.21,366.7 550.37,378.7 550.53,393.0 550.69,407.1 550.84,419.6 551.00,430.2 551.16,439.1 551.32,446.6 551.48,453.2 551.64,459.4 551.80,465.8 551.96,472.8 552.12,480.8 552.28,489.9 552.44,500.0 552.60,510.1 552.76,518.5 552.92,522.2 553.08,513.5 553.23,496.6 553.38,479.8 553.54,465.5 553.69,453.8 553.85,443.1 554.00,431.4 554.15,416.8 554.31,397.6 554.46,373.9 554.62,349.8 554.77,337.4 554.93,343.3 555.09,357.0 555.25,373.3 555.41,389.2 555.57,403.4 555.73,415.3 555.89,425.2 556.05,433.6 556.21,440.9 556.37,447.9 556.53,455.0 556.69,462.8 556.85,471.7 557.01,481.9 557.17,493.1 557.33,504.4 557.49,513.9 557.65,518.1 557.80,509.6 557.96,493.1 558.11,476.7 558.26,462.9 558.42,451.5 558.57,441.1 558.73,429.8 558.88,415.6 559.03,396.8 559.19,373.5 559.34,349.7 559.50,337.4 559.66,343.6 559.82,357.7 559.98,374.5 560.14,390.9 560.30,405.4 560.46,417.7 560.62,427.8 560.77,436.3 560.93,443.7 561.09,450.7 561.25,457.9 561.41,465.8 561.57,474.8 561.73,485.2 561.89,496.6 562.05,508.2 562.21,517.9 562.37,522.2 562.53,513.1 562.68,495.5 562.83,478.0 562.99,463.4 563.14,451.4 563.30,440.5 563.45,428.5 563.61,413.4 563.76,393.3 563.91,368.2 564.07,342.5 564.22,329.2 564.38,333.8 564.54,344.3 564.70,356.9 564.86,369.0 565.02,379.8 565.18,388.8 565.34,396.2 565.50,402.4 565.66,407.9 565.82,413.0 565.98,418.2 566.14,424.0 566.30,430.6 566.46,438.1 566.62,446.5 566.78,455.1 566.94,462.2 567.10,465.4 567.25,458.7 567.41,446.0 567.56,433.3 567.71,422.7 567.87,414.1 568.02,406.2 568.18,397.6 568.33,386.6 568.49,372.0 568.64,353.6 568.79,334.7 568.95,324.9 569.11,331.6 569.27,346.7 569.43,364.6 569.59,382.0 569.75,397.3 569.91,410.1 570.07,420.6 570.23,429.4 570.39,437.0 570.55,444.1 570.71,451.4 570.87,459.5 571.02,468.8 571.18,479.5 571.34,491.4 571.50,503.5 571.66,513.6 571.82,518.1 571.98,510.5 572.13,495.8 572.29,481.4 572.44,469.4 572.59,459.7 572.75,450.8 572.90,441.0 573.06,428.5 573.21,411.7 573.37,390.5 573.52,368.7 573.67,357.3 573.83,363.4 573.99,377.0 574.15,393.2 574.31,408.9 574.47,422.7 574.63,434.2 574.79,443.6 574.95,451.4 575.11,458.1 575.27,464.5 575.43,470.9 575.59,478.1 575.75,486.3 575.91,495.8 576.07,506.4 576.23,517.3 576.39,526.3 576.55,530.4 576.70,522.4 576.86,507.0 577.01,491.9 577.17,479.4 577.32,469.3 577.47,460.0 577.63,449.9 577.78,436.7 577.94,419.0 578.09,396.7 578.24,373.5 578.40,361.4 578.56,366.9 578.72,379.5 578.88,394.3 579.04,408.6 579.20,421.1 579.36,431.5 579.52,440.0 579.68,447.0 579.84,453.0 580.00,458.7 580.16,464.5 580.32,470.9 580.48,478.3 580.64,486.8 580.80,496.4 580.96,506.2 581.11,514.4 581.27,518.1 581.43,509.5 581.58,493.1 581.74,477.0 581.89,463.7 582.05,453.0 582.20,443.3 582.35,432.5 582.51,418.5 582.66,399.6 582.82,375.5 582.97,350.4 583.12,337.4 583.28,343.7 583.44,358.0 583.60,374.8 583.76,391.0 583.92,405.2 584.08,416.9 584.24,426.5 584.40,434.3 584.56,441.1 584.72,447.4 584.88,453.8 585.04,460.9 585.20,469.2 585.36,478.8 585.52,489.5 585.68,500.5 585.84,509.8 586.00,514.0 586.15,505.0 586.31,487.8 586.46,471.0 586.62,457.3 586.77,446.2 586.92,436.2 587.08,425.0 587.23,410.4 587.39,390.6 587.54,365.2 587.70,338.8 587.85,324.9 588.01,331.9 588.17,347.7 588.33,366.3 588.49,384.2 588.65,399.7 588.81,412.6 588.97,423.0 589.13,431.5 589.29,438.8 589.45,445.6 589.61,452.5 589.77,460.3 589.93,469.2 590.09,479.6 590.25,491.4 590.41,503.4 590.57,513.5 590.73,518.1 590.88,508.5 591.03,490.2 591.19,472.5 591.34,457.9 591.50,446.3 591.65,435.8 591.80,424.0 591.96,408.5 592.11,387.4 592.27,360.2 592.42,331.8 592.58,316.9 592.74,324.7 592.89,342.4 593.05,363.1 593.21,383.0 593.37,400.3 593.53,414.5 593.69,425.9 593.85,435.3 594.01,443.3 594.17,450.7 594.33,458.3 594.49,466.7 594.65,476.5 594.81,487.9 594.97,500.8 595.13,514.1 595.29,525.3 595.45,530.4 595.61,519.4 595.76,498.6 595.91,478.4 596.07,462.0 596.22,448.9 596.38,437.0 596.53,423.7 596.68,406.1 596.84,382.0 596.99,350.8 597.15,318.1 597.30,300.9 597.46,308.2 597.62,324.6 597.78,343.9 597.94,362.4 598.10,378.3 598.26,391.5 598.42,402.0 598.58,410.6 598.74,417.8 598.90,424.6 599.06,431.5 599.22,439.1 599.38,448.1 599.54,458.6 599.70,470.4 599.86,482.7 600.02,493.0 600.18,497.7 600.33,488.8 600.48,472.1 600.64,455.9 600.79,442.8 600.95,432.3 601.10,422.9 601.26,412.3 601.41,398.2 601.56,378.7 601.72,353.4 601.87,326.8 602.03,312.8 602.19,321.6 602.35,341.4 602.51,364.5 602.67,386.5 602.83,405.6 602.99,421.2 603.14,433.7 603.30,443.8 603.46,452.4 603.62,460.3 603.78,468.3 603.94,477.3 604.10,487.9 604.26,500.3 604.42,514.3 604.58,528.8 604.74,541.1 604.90,546.7 605.06,536.1 605.21,516.0 605.36,496.6 605.52,481.0 605.67,468.7 605.83,457.5 605.98,444.9" stroke-width="3.68"/>
<polyline points="605.52,481.0 605.67,468.7 605.83,457.5 605.98,444.9 606.14,428.1 606.29,404.6 606.44,374.2 606.60,341.9 606.75,324.9 606.91,332.3 607.07,348.8 607.23,368.0 607.39,386.4 607.55,402.2 607.71,415.1 607.87,425.4 608.03,433.6 608.19,440.6 608.35,447.1 608.51,453.6 608.67,461.0 608.83,469.6 608.99,479.8 609.15,491.3 609.31,503.3 609.47,513.5 609.63,518.1 609.78,509.2 609.94,492.5 610.09,476.4 610.24,463.5 610.40,453.4 610.55,444.2 610.71,433.8 610.86,419.8 611.01,400.3 611.17,374.7 611.32,347.6 611.48,333.3 611.64,341.6 611.80,360.4 611.96,382.3 612.12,403.1 612.28,421.0 612.44,435.5 612.60,447.0 612.76,456.3 612.92,464.1 613.07,471.2 613.23,478.5 613.39,486.7 613.55,496.3 613.71,507.7 613.87,520.7 614.03,534.1 614.19,545.6 614.35,550.8 614.51,540.5 614.66,521.2 614.82,502.7 614.97,488.0 615.12,476.4 615.28,466.0 615.43,454.1 615.59,438.0 615.74,415.4 615.89,385.7 616.05,354.1 616.20,337.4 616.36,345.4 616.52,363.3 616.68,384.1 616.84,403.9 617.00,420.8 617.16,434.5 617.32,445.4 617.48,454.1 617.64,461.3 617.80,468.0 617.96,474.8 618.12,482.4 618.28,491.4 618.44,502.0 618.60,514.2 618.76,526.9 618.92,537.8 619.08,542.7 619.23,532.2 619.39,512.5 619.54,493.7 619.70,478.8 619.85,467.2 620.00,456.6 620.16,444.6 620.31,428.3 620.47,405.2 620.62,374.7 620.77,342.2 620.93,324.9 621.09,332.9 621.25,350.6 621.41,371.2 621.57,390.7 621.73,407.4 621.89,420.8 622.05,431.5 622.21,439.9 622.37,447.0 622.53,453.4 622.69,460.0 622.85,467.3 623.01,476.1 623.16,486.5 623.32,498.4 623.48,510.8 623.64,521.5 623.80,526.3 623.96,517.0 624.11,499.5 624.27,483.0 624.42,469.9 624.57,459.7 624.73,450.5 624.88,439.9 625.04,425.5 625.19,405.0 625.35,377.9 625.50,348.8 625.65,333.3 625.81,341.1 625.97,358.7 626.13,379.0 626.29,398.3 626.45,414.6 626.61,427.8 626.77,438.2 626.93,446.4 627.09,453.2 627.25,459.4 627.41,465.7 627.57,472.9 627.73,481.3 627.89,491.4 628.05,503.1 628.21,515.2 628.37,525.6 628.53,530.4 628.68,519.3 628.84,498.6 628.99,479.0 629.15,463.5 629.30,451.5 629.45,440.8 629.61,428.4 629.76,411.3 629.92,386.9 630.07,354.4 630.23,319.5 630.38,300.9 630.54,310.5 630.70,331.9 630.86,356.6 631.02,379.9 631.18,399.7 631.34,415.6 631.50,428.1 631.66,437.9 631.82,446.1 631.98,453.4 632.14,461.0 632.30,469.4 632.46,479.6 632.62,491.7 632.78,505.6 632.94,520.3 633.10,532.9 633.25,538.6 633.41,528.2 633.56,509.0 633.72,490.8 633.87,476.5 634.03,465.5 634.18,455.7 634.33,444.3 634.49,428.4 634.64,405.7 634.80,375.3 634.95,342.5 635.11,324.9 635.26,333.1 635.42,351.5 635.58,372.6 635.74,392.5 635.90,409.3 636.06,422.8 636.22,433.3 636.38,441.6 636.54,448.4 636.70,454.5 636.86,460.8 637.02,467.9 637.18,476.4 637.34,486.6 637.50,498.4 637.66,510.7 637.82,521.4 637.98,526.3 638.13,517.7 638.29,501.7 638.44,486.7 638.60,475.0 638.75,466.0 638.91,458.0 639.06,448.6 639.21,435.5 639.37,416.6 639.52,391.3 639.68,363.9 639.83,349.1 639.99,357.0 640.15,374.4 640.31,394.4 640.47,413.2 640.63,429.1 640.79,441.8 640.95,451.7 641.11,459.4 641.27,465.7 641.43,471.4 641.59,477.2 641.75,483.8 641.91,491.7 642.07,501.3 642.23,512.3 642.39,523.9 642.55,534.0 642.71,538.6 642.86,529.8 643.01,513.4 643.17,498.1 643.32,486.3 643.48,477.2 643.63,469.1 643.79,459.6 643.94,446.3 644.09,426.9 644.25,400.9 644.40,372.6 644.56,357.3 644.72,364.5 644.88,380.6 645.04,399.1 645.20,416.4 645.35,431.0 645.51,442.6 645.67,451.5 645.83,458.5 645.99,464.2 646.15,469.4 646.31,474.6 646.47,480.5 646.63,487.7 646.79,496.3 646.95,506.4 647.11,517.0 647.27,526.2 647.43,530.4 647.59,521.5 647.74,505.2 647.89,490.0 648.05,478.2 648.20,469.3 648.36,461.3 648.51,451.9 648.66,438.7 648.82,419.3 648.97,393.1 649.13,364.5 649.28,349.1 649.44,357.1 649.60,374.9 649.76,395.3 649.92,414.4 650.08,430.4 650.24,443.1 650.40,452.8 650.56,460.4 650.72,466.6 650.88,472.1 651.04,477.8 651.20,484.2 651.36,491.9 651.52,501.3 651.68,512.3 651.84,523.9 652.00,534.0 652.16,538.6 652.31,527.6 652.47,507.3 652.62,488.4 652.77,473.9 652.93,462.9 653.08,453.1 653.24,441.5 653.39,425.1 653.54,400.9 653.70,368.1 653.85,332.2 654.01,312.8 654.17,317.8 654.33,328.7 654.49,341.3 654.65,352.9 654.81,362.7 654.97,370.5 655.13,376.4 655.28,381.0 655.44,384.7 655.60,388.1 655.76,391.4 655.92,395.3 656.08,400.0 656.24,405.7 656.40,412.3 656.56,419.4 656.72,425.6 656.88,428.4 657.04,423.3 657.19,414.0 657.34,405.4 657.50,398.8 657.65,393.8 657.81,389.4 657.96,384.2 658.12,376.7 658.27,365.6 658.42,350.5 658.58,333.9 658.73,324.9 658.89,335.9 659.05,360.3 659.21,388.2 659.37,414.1 659.53,435.7 659.69,452.8 659.85,465.9 660.01,475.9 660.17,484.0 660.33,491.2 660.49,498.6 660.65,506.9 660.81,517.1 660.97,529.6 661.13,544.2 661.29,559.8 661.45,573.4 661.61,579.6 661.76,568.1 661.92,547.1 662.07,527.7 662.22,512.9 662.38,501.8 662.53,492.0 662.69,480.3 662.84,463.4 663.00,438.2 663.15,403.8 663.30,365.9 663.46,345.4 663.62,354.2 663.78,373.6 663.94,395.9 664.10,416.5 664.26,433.7 664.42,447.2 664.58,457.5 664.74,465.4 664.90,471.7 665.06,477.3 665.22,483.0 665.38,489.5 665.53,497.5 665.69,507.3 665.85,518.8 666.01,531.1 666.17,541.9 666.33,546.8 666.49,536.7 666.64,518.2 666.80,501.3 666.95,488.4 667.10,478.9 667.26,470.4 667.41,460.2 667.57,445.5 667.72,423.4 667.88,393.1 668.03,359.5 668.18,341.3 668.34,349.5 668.50,367.5 668.66,388.1 668.82,407.2 668.98,423.0 669.14,435.4 669.30,444.9 669.46,452.1 669.62,457.8 669.78,462.8 669.94,468.0 670.10,473.9 670.26,481.2 670.42,490.1 670.58,500.7 670.74,512.0 670.90,521.8 671.06,526.4 671.21,517.7 671.37,501.8 671.52,487.2 671.68,476.2 671.83,468.1 671.98,460.9 672.14,452.2 672.29,439.6 672.45,420.5 672.60,394.2 672.75,365.0 672.91,349.1 673.07,358.2 673.23,378.0 673.39,400.7 673.55,421.6 673.71,438.9 673.87,452.4 674.03,462.7 674.19,470.4 674.35,476.6 674.51,482.0 674.67,487.5 674.83,493.9 674.99,501.7 675.15,511.4 675.31,522.9 675.47,535.1 675.62,545.9 675.78,550.9 675.94,540.4 676.09,521.2 676.25,503.8 676.40,490.7 676.56,481.0 676.71,472.5 676.86,462.2 677.02,447.0 677.17,424.0" stroke-width="3.69"/>
<polyline points="676.71,472.5 676.86,462.2 677.02,447.0 677.17,424.0 677.33,392.2 677.48,356.7 677.63,337.4 677.79,345.5 677.95,363.5 678.11,384.0 678.27,402.8 678.43,418.4 678.59,430.5 678.75,439.7 678.91,446.6 679.07,452.0 679.23,456.8 679.39,461.6 679.55,467.3 679.71,474.2 679.87,482.8 680.03,493.1 680.19,504.1 680.35,513.7 680.51,518.1 680.66,510.4 680.82,496.4 680.97,483.6 681.13,474.1 681.28,467.1 681.43,461.0 681.59,453.5 681.74,442.4 681.90,425.5 682.05,402.0 682.21,375.8 682.36,361.4 682.52,366.9 682.68,378.9 682.84,392.5 683.00,405.1 683.16,415.4 683.32,423.5 683.48,429.5 683.64,434.1 683.80,437.7 683.96,440.8 684.12,444.0 684.28,447.7 684.44,452.2 684.60,457.9 684.76,464.7 684.92,472.0 685.08,478.4 685.24,481.3 685.39,477.9 685.54,471.5 685.70,465.8 685.85,461.5 686.01,458.4 686.16,455.6 686.31,452.3 686.47,447.3 686.62,439.6 686.78,429.0 686.93,417.2 687.09,410.7 687.25,417.5 687.40,432.3 687.56,449.2 687.72,464.7 687.88,477.5 688.04,487.5 688.20,494.9 688.36,500.6 688.52,505.0 688.68,508.9 688.84,512.8 689.00,517.4 689.16,523.0 689.32,530.1 689.48,538.5 689.64,547.5 689.80,555.4 689.96,559.0 690.12,551.7 690.27,538.5 690.42,526.4 690.58,517.4 690.73,510.8 690.89,505.0 691.04,498.0 691.19,487.5 691.35,471.5 691.50,449.2 691.66,424.3 691.81,410.7 691.97,416.0 692.13,427.6 692.29,440.7 692.45,452.8 692.61,462.8 692.77,470.5 692.93,476.4 693.09,480.8 693.25,484.2 693.41,487.2 693.57,490.3 693.73,493.9 693.89,498.3 694.05,503.8 694.21,510.3 694.37,517.3 694.53,523.5 694.69,526.3 694.84,521.3 694.99,512.0 695.15,503.6 695.30,497.3 695.46,492.7 695.61,488.7 695.77,483.8 695.92,476.5 696.07,465.3 696.23,449.8 696.38,432.5 696.54,423.0 696.70,427.9 696.86,438.6 697.02,450.8 697.18,462.1 697.34,471.3 697.49,478.5 697.65,484.0 697.81,488.0 697.97,491.2 698.13,494.0 698.29,496.9 698.45,500.2 698.61,504.3 698.77,509.4 698.93,515.4 699.09,522.0 699.25,527.7 699.41,530.3 699.57,528.0 699.72,523.8 699.87,520.0 700.03,517.2 700.18,515.1 700.34,513.3 700.49,511.1 700.65,507.7 700.80,502.7 700.95,495.7 701.11,487.8 701.26,483.5 701.42,486.8 701.58,493.9 701.74,502.0 701.90,509.5 702.06,515.7 702.22,520.5 702.38,524.1 702.54,526.8 702.70,528.9 702.86,530.8 703.02,532.7 703.18,534.9 703.34,537.6 703.50,541.0 703.66,545.0 703.82,549.4 703.98,553.2 704.14,554.9 704.29,551.4 704.45,545.0 704.60,539.2 704.75,534.9 704.91,531.7 705.06,528.9 705.22,525.5 705.37,520.5 705.52,512.8 705.68,502.0 705.83,490.1 705.99,483.5 706.15,488.2 706.31,498.7 706.47,510.5 706.63,521.4 706.79,530.4 706.95,537.4 707.11,542.6 707.27,546.6 707.43,549.7 707.58,552.4 707.74,555.2 707.90,558.4 708.06,562.4 708.22,567.3 708.38,573.2 708.54,579.5 708.70,585.1 708.86,587.6 709.02,581.9 709.17,571.5 709.33,562.0 709.48,555.0 709.63,549.8 709.79,545.2 709.94,539.7 710.10,531.5 710.25,518.9 710.40,501.4 710.56,481.9 710.71,471.2 710.87,476.2 711.03,487.0 711.19,499.3 711.35,510.7 711.51,520.0 711.67,527.3 711.83,532.7 711.99,536.9 712.15,540.1 712.31,542.9 712.47,545.8 712.63,549.1 712.79,553.3 712.95,558.4 713.11,564.5 713.27,571.1 713.43,576.9 713.59,579.5 713.74,573.6 713.90,562.8 714.05,553.0 714.21,545.7 714.36,540.3 714.51,535.6 714.67,529.9 714.82,521.4 714.98,508.4 715.13,490.3 715.28,470.0 715.44,459.0 715.60,463.3 715.76,473.0 715.92,483.9 716.08,493.9 716.24,502.2 716.40,508.6 716.56,513.5 716.72,517.1 716.88,520.0 717.04,522.5 717.20,525.0 717.36,528.0 717.52,531.7 717.67,536.2 717.83,541.6 717.99,547.5 718.15,552.6 718.31,554.9 718.47,550.8 718.62,543.3 718.78,536.5 718.93,531.4 719.08,527.7 719.24,524.5 719.39,520.5 719.55,514.6 719.70,505.5 719.86,493.0 720.01,478.9 720.16,471.2 720.32,476.7 720.48,488.8 720.64,502.5 720.80,515.1 720.96,525.5 721.12,533.6 721.28,539.7 721.44,544.2 721.60,547.8 721.76,551.0 721.92,554.2 722.08,557.9 722.24,562.5 722.40,568.2 722.56,575.0 722.72,582.3 722.88,588.8 723.04,591.7 723.19,585.8 723.35,575.0 723.50,565.2 723.66,557.9 723.81,552.6 723.96,547.8 724.12,542.1 724.27,533.6 724.43,520.6 724.58,502.5 724.74,482.3 724.89,471.2 725.05,476.7 725.21,488.8 725.37,502.5 725.53,515.1 725.69,525.5 725.85,533.6 726.01,539.7 726.17,544.2 726.33,547.8 726.49,551.0 726.65,554.2 726.81,557.9 726.97,562.5 727.13,568.2 727.29,575.0 727.45,582.3 727.61,588.8 727.76,591.7 727.92,584.6 728.07,571.7 728.23,559.9 728.38,551.1 728.54,544.7 728.69,539.0 728.84,532.1 729.00,521.9 729.15,506.3 729.31,484.6 729.46,460.3 729.62,447.0 729.77,454.3 729.93,470.5 730.09,488.8 730.25,505.6 730.41,519.5 730.57,530.3 730.73,538.4 730.89,544.5 731.05,549.3 731.21,553.5 731.37,557.8 731.53,562.8 731.69,568.9 731.85,576.5 732.01,585.6 732.17,595.4 732.33,604.0 732.49,607.9 732.64,599.0 732.80,582.8 732.95,568.1 733.11,557.2 733.26,549.1 733.42,542.1 733.57,533.5 733.72,520.7 733.88,501.2 734.03,474.0 734.19,443.7 734.34,427.1 734.50,435.1 734.66,452.8 734.82,472.9 734.98,491.4 735.14,506.7 735.30,518.5 735.46,527.5 735.62,534.2 735.78,539.4 735.94,544.1 736.10,548.8 736.26,554.2 736.42,560.9 736.58,569.3 736.74,579.3 736.90,590.0 737.06,599.5 737.22,603.8 737.37,595.5 737.52,580.4 737.68,566.7 737.83,556.4 737.99,548.9 738.14,542.3 738.30,534.3 738.45,522.3 738.60,504.1 738.76,478.8 738.91,450.4 739.07,434.9 739.23,441.8 739.39,457.1 739.55,474.4 739.71,490.3 739.86,503.5 740.02,513.7 740.18,521.4 740.34,527.1 740.50,531.7 740.66,535.7 740.82,539.7 740.98,544.4 741.14,550.2 741.30,557.4 741.46,566.0 741.62,575.3 741.78,583.4 741.94,587.1 742.10,579.3 742.25,564.9 742.40,551.9 742.56,542.2 742.71,535.1 742.87,528.8 743.02,521.2 743.17,509.9 743.33,492.6 743.48,468.6 743.64,441.8 743.79,427.1 743.95,434.5 744.11,451.0 744.27,469.7 744.43,486.9 744.59,501.1 744.75,512.2 744.91,520.5 745.07,526.7 745.23,531.6 745.39,535.9 745.55,540.3 745.71,545.4 745.87,551.6 746.03,559.4 746.19,568.7 746.35,578.7 746.51,587.5 746.67,591.5 746.82,583.8 746.98,569.8 747.13,557.1 747.28,547.6 747.44,540.6 747.59,534.5 747.75,527.0 747.90,516.0 748.05,499.1 748.21,475.6 748.36,449.3 748.52,434.9" stroke-width="3.71"/>
<polyline points="748.05,499.1 748.21,475.6 748.36,449.3 748.52,434.9 748.68,442.0 748.84,457.7 749.00,475.6 749.16,491.9 749.32,505.5 749.48,516.0 749.64,523.9 749.79,529.8 749.95,534.5 750.11,538.6 750.27,542.7 750.43,547.6 750.59,553.5 750.75,561.0 750.91,569.8 751.07,579.3 751.23,587.7 751.39,591.5 751.55,583.2 751.70,568.1 751.85,554.4 752.01,544.2 752.16,536.7 752.32,530.1 752.47,522.1 752.63,510.2 752.78,492.0 752.93,466.7 753.09,438.5 753.24,423.0 753.40,431.0 753.56,448.7 753.72,468.8 753.88,487.3 754.04,502.6 754.20,514.4 754.36,523.4 754.52,530.1 754.68,535.3 754.84,540.0 755.00,544.7 755.16,550.1 755.32,556.8 755.48,565.2 755.64,575.2 755.80,585.9 755.96,595.4 756.12,599.7 756.27,592.8 756.43,580.2 756.58,568.7 756.73,560.2 756.89,554.0 757.04,548.5 757.20,541.8 757.35,531.8 757.51,516.6 757.66,495.5 757.81,471.9 757.97,459.0 758.13,467.2 758.29,485.3 758.45,505.9 758.61,524.7 758.77,540.3 758.93,552.5 759.09,561.6 759.25,568.4 759.41,573.8 759.57,578.5 759.73,583.3 759.88,588.9 760.04,595.8 760.20,604.4 760.36,614.6 760.52,625.5 760.68,635.2 760.84,639.6 761.00,631.3 761.15,616.3 761.31,602.6 761.46,592.4 761.61,584.9 761.77,578.3 761.92,570.3 762.08,558.4 762.23,540.2 762.39,514.9 762.54,486.7 762.69,471.2 762.85,478.2 763.01,493.5 763.17,510.8 763.33,526.8 763.49,540.0 763.65,550.2 763.81,557.9 763.97,563.7 764.13,568.3 764.29,572.2 764.45,576.3 764.61,581.0 764.77,586.8 764.93,594.0 765.09,602.7 765.25,611.9 765.41,620.1 765.57,623.8 765.72,616.3 765.88,602.7 766.03,590.2 766.19,581.0 766.34,574.2 766.49,568.3 766.65,561.0 766.80,550.2 766.96,533.8 767.11,510.8 767.26,485.3 767.42,471.2 767.58,479.8 767.74,498.8 767.90,520.3 768.06,540.0 768.22,556.3 768.38,569.0 768.54,578.5 768.70,585.7 768.86,591.3 769.02,596.3 769.18,601.3 769.34,607.1 769.50,614.3 769.66,623.3 769.82,633.9 769.98,645.4 770.13,655.5 770.29,660.1 770.45,651.4 770.60,635.5 770.76,621.0 770.91,610.3 771.07,602.4 771.22,595.4 771.37,587.0 771.53,574.4 771.68,555.3 771.84,528.6 771.99,498.8 772.14,482.5 772.30,490.8 772.46,509.0 772.62,529.7 772.78,548.7 772.94,564.4 773.10,576.5 773.26,585.7 773.42,592.6 773.58,598.0 773.74,602.8 773.90,607.6 774.06,613.2 774.22,620.1 774.38,628.8 774.54,639.0 774.70,650.1 774.86,659.8 775.02,664.2 775.17,655.3 775.33,639.0 775.48,624.2 775.64,613.2 775.79,605.1 775.94,598.0 776.10,589.4 776.25,576.5 776.41,557.0 776.56,529.7 776.72,499.2 776.87,482.5 777.03,489.8 777.19,506.0 777.35,524.3 777.51,541.2 777.67,555.1 777.83,565.9 777.99,574.1 778.15,580.2 778.31,585.0 778.47,589.2 778.63,593.5 778.79,598.5 778.95,604.6 779.11,612.3 779.27,621.4 779.43,631.2 779.59,639.8 779.75,643.7 779.90,635.4 780.05,620.2 780.21,606.4 780.36,596.2 780.52,588.7 780.67,582.0 780.82,574.0 780.98,562.0 781.13,543.7 781.29,518.3 781.44,489.9 781.60,474.3 781.76,482.0 781.91,499.0 782.07,518.3 782.23,536.0 782.39,550.6 782.55,562.0 782.71,570.5 782.87,577.0 783.03,582.0 783.19,586.5 783.35,591.0 783.51,596.2 783.67,602.6 783.83,610.7 783.99,620.2 784.15,630.5 784.31,639.6 784.47,643.7 784.63,634.6 784.78,618.0 784.93,602.8 785.09,591.6 785.24,583.3 785.40,576.1 785.55,567.2 785.70,554.1 785.86,534.1 786.01,506.2 786.17,475.0 786.32,458.0 786.48,466.2 786.64,484.4 786.80,505.1 786.96,524.1 787.12,539.8 787.28,552.0 787.44,561.1 787.60,568.0 787.76,573.5 787.92,578.2 788.08,583.0 788.24,588.6 788.40,595.6 788.56,604.2 788.72,614.4 788.88,625.5 789.04,635.2 789.20,639.6 789.35,630.1 789.50,612.8 789.66,597.0 789.81,585.3 789.97,576.7 790.12,569.1 790.28,559.9 790.43,546.2 790.58,525.3 790.74,496.3 790.89,463.8 791.05,446.0 791.21,455.6 791.37,476.6 791.53,500.5 791.69,522.5 791.85,540.6 792.00,554.7 792.16,565.3 792.32,573.3 792.48,579.5 792.64,585.0 792.80,590.6 792.96,597.1 793.12,605.1 793.28,615.0 793.44,626.9 793.60,639.7 793.76,650.9 793.92,656.0 794.08,645.1 794.23,625.2 794.38,607.1 794.54,593.6 794.69,583.8 794.85,575.1 795.00,564.5 795.16,548.8 795.31,524.8 795.46,491.4 795.62,454.2 795.77,433.8 795.93,442.8 796.09,462.6 796.25,485.1 796.41,505.8 796.57,522.8 796.73,536.1 796.89,546.1 797.05,553.6 797.21,559.5 797.37,564.7 797.53,569.9 797.69,576.0 797.85,583.5 798.01,592.9 798.17,604.1 798.33,616.1 798.49,626.7 798.65,631.5 798.80,621.2 798.96,602.4 799.11,585.3 799.26,572.6 799.42,563.3 799.57,555.1 799.73,545.1 799.88,530.3 800.03,507.6 800.19,476.1 800.34,440.9 800.50,421.6 800.66,430.5 800.82,449.9 800.98,471.9 801.14,492.1 801.30,508.8 801.46,521.8 801.62,531.5 801.78,538.9 801.94,544.7 802.09,549.7 802.25,554.9 802.41,560.8 802.57,568.2 802.73,577.4 802.89,588.3 803.05,600.0 803.21,610.4 803.37,615.1 803.53,604.4 803.68,584.9 803.84,567.2 803.99,554.0 804.14,544.4 804.30,535.8 804.45,525.5 804.61,510.1 804.76,486.6 804.91,453.9 805.07,417.4 805.22,397.4 805.38,406.6 805.54,426.8 805.70,449.7 805.86,470.7 806.02,488.1 806.18,501.6 806.34,511.8 806.50,519.4 806.66,525.4 806.82,530.7 806.98,536.0 807.14,542.2 807.30,549.9 807.46,559.4 807.62,570.8 807.78,583.0 807.94,593.8 808.10,598.7 808.25,589.4 808.41,572.5 808.56,557.1 808.72,545.7 808.87,537.3 809.02,529.9 809.18,520.9 809.33,507.5 809.49,487.2 809.64,458.8 809.79,427.1 809.95,409.7 810.11,418.1 810.27,436.7 810.43,457.7 810.59,477.1 810.75,493.0 810.91,505.5 811.07,514.8 811.23,521.8 811.39,527.3 811.55,532.2 811.71,537.1 811.87,542.8 812.03,549.8 812.18,558.6 812.34,569.1 812.50,580.3 812.66,590.2 812.82,594.7 812.98,585.6 813.13,569.1 813.29,554.0 813.44,542.8 813.59,534.6 813.75,527.3 813.90,518.5 814.06,505.5 814.21,485.5 814.37,457.7 814.52,426.7 814.67,409.7 814.83,419.6 814.99,441.4 815.15,466.2 815.31,489.0 815.47,507.8 815.63,522.4 815.79,533.4 815.95,541.6 816.11,548.1 816.27,553.8 816.43,559.6 816.59,566.3 816.75,574.6 816.91,584.9 817.07,597.2 817.23,610.4 817.39,622.1 817.55,627.4 817.70,615.7 817.86,594.4 818.01,575.0 818.17,560.6 818.32,550.0 818.47,540.7 818.63,529.3 818.78,512.5 818.94,486.8 819.09,451.1 819.25,411.1 819.40,389.3 819.56,400.1 819.72,424.0" stroke-width="3.72"/>
<polyline points="819.25,411.1 819.40,389.3 819.56,400.1 819.72,424.0 819.88,451.1 820.04,476.0 820.20,496.6 820.36,512.6 820.52,524.6 820.68,533.7 820.84,540.8 821.00,547.0 821.16,553.4 821.32,560.7 821.48,569.8 821.64,581.1 821.80,594.5 821.96,609.0 822.12,621.8 822.27,627.6 822.43,615.7 822.58,594.0 822.74,574.3 822.89,559.6 823.05,548.9 823.20,539.4 823.35,527.9 823.51,510.8 823.66,484.7 823.82,448.3 823.97,407.7 824.12,385.5 824.28,396.3 824.44,420.2 824.60,447.3 824.76,472.2 824.92,492.8 825.08,508.7 825.24,520.7 825.40,529.8 825.56,536.9 825.72,543.1 825.88,549.4 826.04,556.8 826.20,565.8 826.36,577.1 826.52,590.6 826.68,605.0 826.84,617.8 827.00,623.6 827.15,613.1 827.31,593.9 827.46,576.5 827.62,563.6 827.77,554.1 827.93,545.7 828.08,535.5 828.23,520.4 828.39,497.4 828.54,465.2 828.70,429.4 828.85,409.7 829.01,418.7 829.17,438.5 829.33,461.0 829.49,481.7 829.65,498.7 829.81,512.0 829.97,521.9 830.13,529.4 830.29,535.3 830.45,540.5 830.61,545.8 830.77,551.8 830.93,559.4 831.09,568.8 831.25,579.9 831.41,591.9 831.57,602.5 831.73,607.3 831.88,597.6 832.03,579.9 832.19,563.8 832.34,551.8 832.50,543.1 832.65,535.3 832.81,525.9 832.96,512.0 833.11,490.7 833.27,461.0 833.42,427.9 833.58,409.7 833.74,419.4 833.90,440.9 834.06,465.2 834.22,487.6 834.37,506.1 834.53,520.4 834.69,531.2 834.85,539.3 835.01,545.7 835.17,551.3 835.33,557.0 835.49,563.6 835.65,571.7 835.81,581.9 835.97,593.9 836.13,606.9 836.29,618.4 836.45,623.6 836.61,613.7 836.76,595.6 836.91,579.2 837.07,567.0 837.22,558.1 837.38,550.2 837.53,540.6 837.68,526.3 837.84,504.6 837.99,474.3 838.15,440.5 838.30,422.0 838.46,431.3 838.62,452.0 838.78,475.3 838.94,496.8 839.10,514.6 839.26,528.4 839.42,538.8 839.58,546.6 839.74,552.7 839.90,558.1 840.06,563.6 840.22,569.9 840.38,577.7 840.54,587.5 840.70,599.1 840.86,611.6 841.02,622.6 841.18,627.6 841.33,616.1 841.49,595.1 841.64,576.1 841.79,561.8 841.95,551.5 842.10,542.3 842.26,531.1 842.41,514.6 842.56,489.3 842.72,454.1 842.87,414.9 843.03,393.4 843.19,402.3 843.35,422.1 843.51,444.6 843.67,465.2 843.83,482.3 843.99,495.5 844.15,505.5 844.30,513.0 844.46,518.9 844.62,524.1 844.78,529.3 844.94,535.4 845.10,542.9 845.26,552.3 845.42,563.4 845.58,575.4 845.74,586.0 845.90,590.8 846.06,581.1 846.21,563.4 846.36,547.4 846.52,535.4 846.67,526.6 846.83,518.9 846.98,509.5 847.14,495.5 847.29,474.3 847.44,444.6 847.60,411.5 847.75,393.4 847.91,402.5 848.07,422.7 848.23,445.6 848.39,466.7 848.55,484.1 848.71,497.6 848.87,507.8 849.03,515.4 849.19,521.4 849.35,526.7 849.51,532.1 849.67,538.3 849.83,545.9 849.99,555.5 850.15,566.9 850.31,579.1 850.47,589.9 850.63,594.8 850.78,584.5 850.94,565.8 851.09,548.7 851.24,536.0 851.40,526.8 851.55,518.6 851.71,508.6 851.86,493.8 852.02,471.3 852.17,439.8 852.32,404.7 852.48,385.5 852.64,396.0 852.80,419.0 852.96,445.2 853.12,469.2 853.28,489.1 853.44,504.5 853.60,516.1 853.76,524.9 853.92,531.7 854.08,537.8 854.24,543.9 854.39,550.9 854.55,559.7 854.71,570.6 854.87,583.6 855.03,597.6 855.19,609.9 855.35,615.5 855.51,604.8 855.66,585.3 855.82,567.5 855.97,554.3 856.12,544.6 856.28,536.1 856.43,525.7 856.59,510.3 856.74,486.8 856.90,454.0 857.05,417.5 857.20,397.4 857.36,406.2 857.52,425.6 857.68,447.6 857.84,467.8 858.00,484.5 858.16,497.5 858.32,507.3 858.48,514.6 858.64,520.4 858.80,525.4 858.96,530.6 859.12,536.5 859.28,543.9 859.44,553.1 859.60,564.0 859.76,575.7 859.92,586.1 860.08,590.8 860.23,580.7 860.39,562.3 860.54,545.6 860.70,533.2 860.85,524.1 861.00,516.0 861.16,506.3 861.31,491.7 861.47,469.6 861.62,438.8 861.77,404.4 861.93,385.5 862.09,391.0 862.25,403.0 862.41,416.7 862.57,429.3 862.73,439.7 862.89,447.8 863.05,453.8 863.21,458.4 863.37,462.0 863.53,465.1 863.69,468.3 863.85,472.0 864.01,476.6 864.17,482.3 864.33,489.1 864.49,496.4 864.64,502.9 864.80,505.8 864.96,503.1 865.11,498.1 865.27,493.6 865.42,490.2 865.58,487.7 865.73,485.5 865.88,482.9 866.04,478.9 866.19,472.9 866.35,464.6 866.50,455.2 866.65,450.1 866.81,453.2 866.97,460.0 867.13,467.8 867.29,474.9 867.45,480.8 867.61,485.3 867.77,488.7 867.93,491.3 868.09,493.4 868.25,495.1 868.41,496.9 868.57,499.0 868.73,501.6 868.89,504.9 869.05,508.7 869.21,512.8 869.37,516.5 869.53,518.1 869.68,512.8 869.84,503.1 869.99,494.3 870.15,487.7 870.30,482.9 870.45,478.6 870.61,473.5 870.76,465.8 870.92,454.1 871.07,437.8 871.23,419.7 871.38,409.7 871.54,416.3 871.70,430.9 871.86,447.4 872.02,462.6 872.18,475.1 872.34,484.9 872.50,492.2 872.66,497.7 872.82,502.0 872.98,505.8 873.14,509.7 873.30,514.2 873.46,519.7 873.62,526.6 873.78,534.8 873.94,543.6 874.10,551.4 874.26,554.9 874.41,549.0 874.56,538.1 874.72,528.3 874.87,521.0 875.03,515.6 875.18,510.9 875.33,505.1 875.49,496.5 875.64,483.5 875.80,465.3 875.95,445.0 876.11,433.9 876.27,437.8 876.42,446.2 876.58,455.8 876.74,464.6 876.90,471.9 877.06,477.5 877.22,481.7 877.38,484.9 877.54,487.5 877.70,489.7 877.86,491.9 878.02,494.5 878.18,497.7 878.34,501.7 878.50,506.4 878.66,511.6 878.82,516.1 878.98,518.1 879.14,514.0 879.29,506.4 879.44,499.6 879.60,494.5 879.75,490.8 879.91,487.5 880.06,483.5 880.21,477.5 880.37,468.4 880.52,455.8 880.68,441.7 880.83,433.9 880.99,443.1 881.15,463.4 881.31,486.3 881.47,507.4 881.63,524.9 881.79,538.4 881.95,548.6 882.11,556.3 882.27,562.3 882.43,567.6 882.59,572.9 882.75,579.1 882.91,586.8 883.07,596.4 883.23,607.8 883.39,620.1 883.55,630.9 883.71,635.8 883.86,627.1 884.01,611.1 884.17,596.7 884.32,585.9 884.48,578.0 884.63,571.0 884.79,562.6 884.94,550.0 885.09,530.8 885.25,504.1 885.40,474.3 885.56,458.0 885.72,464.2 885.88,477.9 886.04,493.5 886.20,507.8 886.36,519.6 886.51,528.8 886.67,535.7 886.83,540.9 886.99,545.0 887.15,548.6 887.31,552.2 887.47,556.4 887.63,561.6 887.79,568.1 887.95,575.8 888.11,584.2 888.27,591.5 888.43,594.8 888.59,585.3 888.74,568.0 888.89,552.3 889.05,540.6 889.20,532.0 889.36,524.4 889.51,515.2 889.67,501.6 889.82,480.7 889.97,451.7 890.13,419.3 890.28,401.5 890.44,406.3 890.60,416.7 890.76,428.6 890.92,439.5" stroke-width="3.73"/>
<polyline points="890.60,416.7 890.76,428.6 890.92,439.5 891.08,448.5 891.24,455.5 891.40,460.8 891.56,464.7 891.72,467.8 891.88,470.6 892.04,473.3 892.20,476.5 892.36,480.5 892.52,485.5 892.68,491.3 892.84,497.7 893.00,503.3 893.16,505.8 893.31,501.9 893.47,494.7 893.62,488.2 893.77,483.3 893.93,479.7 894.08,476.6 894.24,472.8 894.39,467.1 894.55,458.5 894.70,446.4 894.85,433.0 895.01,425.6 895.17,432.0 895.33,446.1 895.49,462.1 895.65,476.9 895.81,489.0 895.97,498.5 896.13,505.6 896.29,510.9 896.45,515.1 896.61,518.8 896.76,522.5 896.92,526.9 897.08,532.2 897.24,538.9 897.40,546.9 897.56,555.4 897.72,563.0 897.88,566.4 898.04,562.1 898.19,554.2 898.35,547.1 898.50,541.7 898.65,537.8 898.81,534.4 898.96,530.2 899.12,524.0 899.27,514.5 899.42,501.3 899.58,486.5 899.73,478.4 899.89,480.8 900.05,486.0 900.21,491.9 900.37,497.3 900.53,501.8 900.69,505.3 900.85,507.9 901.01,509.9 901.17,511.4 901.33,512.8 901.49,514.2 901.65,515.8 901.81,517.7 901.97,520.2 902.13,523.1 902.29,526.3 902.45,529.1 902.61,530.3 902.76,526.6 902.92,519.8 903.07,513.6 903.23,509.0 903.38,505.6 903.53,502.7 903.69,499.1 903.84,493.7 904.00,485.5 904.15,474.1 904.30,461.4 904.46,454.4 904.62,459.3 904.78,470.1 904.94,482.4 905.10,493.7 905.26,503.0 905.42,510.2 905.58,515.7 905.74,519.8 905.90,523.0 906.06,525.8 906.22,528.7 906.38,532.0 906.54,536.1 906.69,541.3 906.85,547.3 907.01,553.9 907.17,559.7 907.33,562.3 907.49,555.6 907.64,543.4 907.80,532.3 907.95,524.1 908.10,518.0 908.26,512.7 908.41,506.2 908.57,496.6 908.72,481.9 908.88,461.4 909.03,438.6 909.18,426.1 909.34,434.5 909.50,453.1 909.66,474.2 909.82,493.6 909.98,509.6 910.14,522.0 910.30,531.3 910.46,538.4 910.62,543.9 910.78,548.8 910.94,553.7 911.10,559.4 911.26,566.4 911.42,575.2 911.58,585.7 911.74,597.0 911.90,606.9 912.06,611.4 912.21,603.3 912.37,588.5 912.52,575.0 912.68,565.0 912.83,557.7 912.98,551.2 913.14,543.3 913.29,531.6 913.45,513.8 913.60,489.0 913.76,461.2 913.91,446.0 914.07,452.9 914.23,468.0 914.39,485.1 914.55,500.9 914.71,513.9 914.87,524.0 915.03,531.6 915.19,537.3 915.35,541.8 915.51,545.7 915.67,549.7 915.83,554.3 915.99,560.1 916.15,567.2 916.31,575.7 916.47,584.9 916.63,592.9 916.78,596.6 916.94,588.2 917.09,573.0 917.25,559.1 917.40,548.7 917.56,541.2 917.71,534.5 917.86,526.4 918.02,514.3 918.17,495.9 918.33,470.3 918.48,441.7 918.63,426.1 918.79,433.2 918.95,448.9 919.11,466.7 919.27,483.1 919.43,496.6 919.59,507.1 919.75,515.0 919.91,521.0 920.07,525.7 920.23,529.8 920.39,533.9 920.55,538.7 920.71,544.7 920.87,552.1 921.03,561.0 921.19,570.5 921.35,578.9 921.51,582.7 921.66,576.6 921.82,565.4 921.97,555.3 922.13,547.7 922.28,542.2 922.44,537.3 922.59,531.4 922.74,522.5 922.90,509.1 923.05,490.4 923.21,469.4 923.36,458.0 923.52,465.5 923.68,482.1 923.84,501.0 924.00,518.3 924.16,532.6 924.32,543.7 924.48,552.1 924.64,558.3 924.80,563.3 924.96,567.6 925.12,572.0 925.28,577.1 925.44,583.4 925.60,591.3 925.76,600.6 925.92,610.7 926.08,619.6 926.24,623.6 926.39,615.5 926.54,600.6 926.70,587.2 926.85,577.1 927.01,569.8 927.16,563.3 927.32,555.4 927.47,543.7 927.62,525.8 927.78,501.0 927.93,473.2 928.09,458.0 928.25,462.9 928.41,473.8 928.57,486.1 928.73,497.5 928.88,506.8 929.04,514.1 929.20,519.6 929.36,523.7 929.52,526.9 929.68,529.8 929.84,532.6 930.00,536.0 930.16,540.1 930.32,545.3 930.48,551.4 930.64,558.0 930.80,563.8 930.96,566.4 931.12,564.7 931.27,561.6 931.42,558.7 931.58,556.6 931.73,555.1 931.89,553.7 932.04,552.1 932.19,549.6 932.35,545.8 932.50,540.6 932.66,534.7 932.81,531.5 932.97,533.3 933.13,537.2 933.29,541.6 933.45,545.7 933.61,549.1 933.77,551.7 933.93,553.7 934.09,555.2 934.25,556.3 934.41,557.3 934.57,558.4 934.73,559.6 934.89,561.1 935.05,562.9 935.21,565.1 935.37,567.5 935.53,569.6 935.69,570.5 935.84,567.1 936.00,560.9 936.15,555.3 936.30,551.1 936.46,548.0 936.61,545.3 936.77,542.0 936.92,537.1 937.07,529.6 937.23,519.2 937.38,507.6 937.54,501.3 937.70,508.3 937.86,523.9 938.02,541.5 938.18,557.8 938.34,571.2 938.50,581.6 938.66,589.4 938.82,595.3 938.97,600.0 939.13,604.0 939.29,608.1 939.45,612.9 939.61,618.8 939.77,626.2 939.93,635.0 940.09,644.4 940.25,652.7 940.41,656.5 940.57,650.4 940.72,639.2 940.88,629.0 941.03,621.4 941.18,615.9 941.34,611.0 941.49,605.0 941.65,596.2 941.80,582.7 941.95,564.0 942.11,543.0 942.26,531.5 942.42,538.7 942.58,554.5 942.74,572.4 942.90,588.9 943.06,602.5 943.22,613.1 943.38,621.1 943.54,627.1 943.70,631.8 943.86,635.9 944.02,640.1 944.18,644.9 944.34,651.0 944.50,658.4 944.66,667.3 944.82,676.9 944.98,685.4 945.14,689.2 945.29,679.6 945.45,662.2 945.60,646.4 945.75,634.6 945.91,626.0 946.06,618.4 946.22,609.1 946.37,595.4 946.53,574.4 946.68,545.2 946.83,512.6 946.99,494.7 947.15,500.4 947.31,512.9 947.47,527.1 947.63,540.2 947.79,551.0 947.95,559.3 948.11,565.7 948.27,570.4 948.43,574.1 948.59,577.4 948.75,580.7 948.90,584.5 949.06,589.3 949.22,595.2 949.38,602.3 949.54,609.9 949.70,616.6 949.86,619.6 950.02,611.1 950.17,595.6 950.33,581.5 950.48,571.0 950.63,563.3 950.79,556.5 950.94,548.3 951.10,536.1 951.25,517.4 951.41,491.4 951.56,462.4 951.71,446.4 951.87,454.7 952.03,472.9 952.19,493.5 952.35,512.5 952.51,528.1 952.67,540.3 952.83,549.5 952.99,556.3 953.15,561.8 953.31,566.5 953.47,571.3 953.63,576.9 953.79,583.8 953.95,592.4 954.11,602.6 954.27,613.7 954.43,623.4 954.59,627.8 954.74,618.3 954.90,600.9 955.05,585.2 955.21,573.4 955.36,564.9 955.51,557.3 955.67,548.1 955.82,534.4 955.98,513.5 956.13,484.4 956.28,452.0 956.44,434.2 956.60,444.3 956.76,466.6 956.92,491.9 957.08,515.1 957.24,534.3 957.40,549.2 957.56,560.5 957.72,568.9 957.88,575.5 958.04,581.3 958.20,587.2 958.36,594.1 958.52,602.6 958.68,613.1 958.84,625.7 959.00,639.2 959.15,651.1 959.31,656.5 959.47,645.6 959.62,625.7 959.78,607.6 959.93,594.1 960.09,584.2 960.24,575.5 960.39,565.0 960.55,549.2 960.70,525.3 960.86,491.9 961.01,454.6 961.16,434.2" stroke-width="3.74"/>
</g>
<rect x="108.5" y="101.5" width="853.0" height="616.0" fill="none" stroke="#cccccc" stroke-width="3.0"/>
<g fill="#262626" font-family="'DejaVu Sans Mono', 'Liberation Mono', monospace">
<text x="85.2" y="697.9" font-size="23.6" text-anchor="end">0</text>
<text x="85.2" y="576.1" font-size="23.6" text-anchor="end">10</text>
<text x="85.2" y="454.9" font-size="23.6" text-anchor="end">20</text>
<text x="85.2" y="333.1" font-size="23.6" text-anchor="end">30</text>
<text x="85.2" y="211.6" font-size="23.6" text-anchor="end">40</text>
<text x="177.0" y="757.0" font-size="21.6" text-anchor="middle">Aug</text>
<text x="323.0" y="757.0" font-size="21.6" text-anchor="middle">Sep</text>
<text x="465.0" y="757.0" font-size="21.6" text-anchor="middle">Oct</text>
<text x="611.0" y="757.0" font-size="21.6" text-anchor="middle">Nov</text>
<text x="753.0" y="757.0" font-size="21.6" text-anchor="middle">Dec</text>
<text x="900.0" y="757.0" font-size="21.6" text-anchor="middle">2026</text>
<text transform="translate(37.5,410.7) rotate(-90)" font-size="26.57" text-anchor="middle">2 metre temperature [C]</text>
<text x="108.3" y="74.4" font-size="26.7">Maricopa - Ak-chin (A39)</text>
</g>
<text x="107.8" y="41.8" font-size="26.6" font-weight="bold" letter-spacing="0" fill="#262626" font-family="'DejaVu Sans', 'Liberation Sans', sans-serif">2 metre temperature</text>
</svg>
</body>
</html>
